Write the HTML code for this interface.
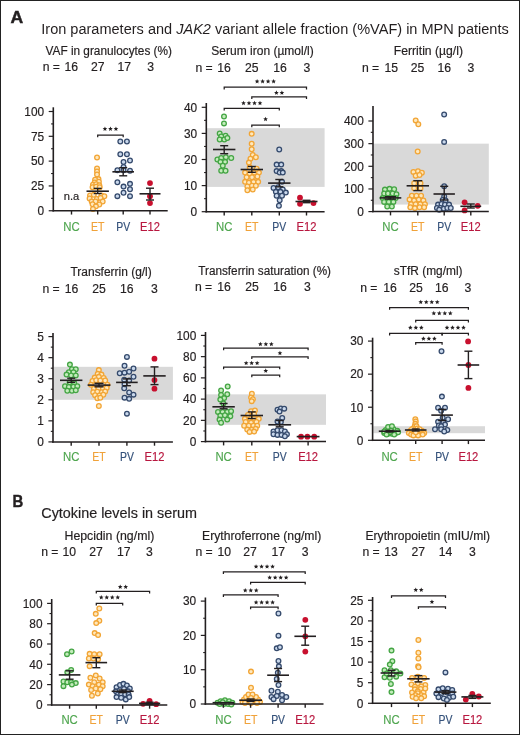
<!DOCTYPE html>
<html><head><meta charset="utf-8"><style>
html,body{margin:0;padding:0;background:#fff;}
body{width:520px;height:735px;overflow:hidden;}
svg{display:block;font-family:"Liberation Sans", sans-serif;will-change:transform;}
</style></head><body>
<svg width="520" height="735" viewBox="0 0 520 735">
<rect x="0" y="0" width="520" height="735" fill="#fff"/>
<text x="10.40" y="23.00" font-size="16.4" fill="#231f20" font-weight="bold" stroke="#231f20" stroke-width="0.45" textLength="12.70" lengthAdjust="spacingAndGlyphs">A</text>
<text x="41.25" y="33.75" font-size="14" fill="#231f20" textLength="467.5" lengthAdjust="spacingAndGlyphs">Iron parameters and <tspan font-style="italic">JAK2</tspan> variant allele fraction (%VAF) in MPN patients</text>
<text x="12.40" y="507.10" font-size="17.2" fill="#231f20" font-weight="bold" stroke="#231f20" stroke-width="0.45" textLength="10.80" lengthAdjust="spacingAndGlyphs">B</text>
<text x="41.25" y="518.00" font-size="14" fill="#231f20" stroke="#231f20" stroke-width="0.18" textLength="155.75" lengthAdjust="spacingAndGlyphs">Cytokine levels in serum</text>
<text x="45.50" y="55.00" font-size="12.0" fill="#231f20" stroke="#231f20" stroke-width="0.18" textLength="126.50" lengthAdjust="spacingAndGlyphs">VAF in granulocytes (%)</text>
<text x="211.25" y="55.00" font-size="12.0" fill="#231f20" stroke="#231f20" stroke-width="0.18" textLength="102.50" lengthAdjust="spacingAndGlyphs">Serum iron (µmol/l)</text>
<text x="393.75" y="55.00" font-size="12.0" fill="#231f20" stroke="#231f20" stroke-width="0.18" textLength="69.25" lengthAdjust="spacingAndGlyphs">Ferritin (µg/l)</text>
<text x="70.50" y="275.50" font-size="12.0" fill="#231f20" stroke="#231f20" stroke-width="0.18" textLength="81.25" lengthAdjust="spacingAndGlyphs">Transferrin (g/l)</text>
<text x="198.25" y="275.00" font-size="12.0" fill="#231f20" stroke="#231f20" stroke-width="0.18" textLength="132.75" lengthAdjust="spacingAndGlyphs">Transferrin saturation (%)</text>
<text x="393.75" y="274.50" font-size="12.0" fill="#231f20" stroke="#231f20" stroke-width="0.18" textLength="68.75" lengthAdjust="spacingAndGlyphs">sTfR (mg/ml)</text>
<text x="64.50" y="540.00" font-size="12.0" fill="#231f20" stroke="#231f20" stroke-width="0.18" textLength="89.75" lengthAdjust="spacingAndGlyphs">Hepcidin (ng/ml)</text>
<text x="202.00" y="540.00" font-size="12.0" fill="#231f20" stroke="#231f20" stroke-width="0.18" textLength="119.25" lengthAdjust="spacingAndGlyphs">Erythroferrone (ng/ml)</text>
<text x="365.50" y="540.00" font-size="12.0" fill="#231f20" stroke="#231f20" stroke-width="0.18" textLength="124.50" lengthAdjust="spacingAndGlyphs">Erythropoietin (mIU/ml)</text>
<text x="42.80" y="71.40" font-size="12.2" fill="#231f20" stroke="#231f20" stroke-width="0.18">n</text>
<text x="56.40" y="71.40" font-size="12.2" fill="#231f20" text-anchor="middle" stroke="#231f20" stroke-width="0.18">=</text>
<text x="71.25" y="71.40" font-size="12.2" fill="#231f20" text-anchor="middle" stroke="#231f20" stroke-width="0.18">16</text>
<text x="97.75" y="71.40" font-size="12.2" fill="#231f20" text-anchor="middle" stroke="#231f20" stroke-width="0.18">27</text>
<text x="124.38" y="71.40" font-size="12.2" fill="#231f20" text-anchor="middle" stroke="#231f20" stroke-width="0.18">17</text>
<text x="150.62" y="71.40" font-size="12.2" fill="#231f20" text-anchor="middle" stroke="#231f20" stroke-width="0.18">3</text>
<text x="195.50" y="71.80" font-size="12.2" fill="#231f20" stroke="#231f20" stroke-width="0.18">n</text>
<text x="209.10" y="71.80" font-size="12.2" fill="#231f20" text-anchor="middle" stroke="#231f20" stroke-width="0.18">=</text>
<text x="224.00" y="71.80" font-size="12.2" fill="#231f20" text-anchor="middle" stroke="#231f20" stroke-width="0.18">16</text>
<text x="251.75" y="71.80" font-size="12.2" fill="#231f20" text-anchor="middle" stroke="#231f20" stroke-width="0.18">25</text>
<text x="280.00" y="71.80" font-size="12.2" fill="#231f20" text-anchor="middle" stroke="#231f20" stroke-width="0.18">16</text>
<text x="306.88" y="71.80" font-size="12.2" fill="#231f20" text-anchor="middle" stroke="#231f20" stroke-width="0.18">3</text>
<text x="362.00" y="71.80" font-size="12.2" fill="#231f20" stroke="#231f20" stroke-width="0.18">n</text>
<text x="375.60" y="71.80" font-size="12.2" fill="#231f20" text-anchor="middle" stroke="#231f20" stroke-width="0.18">=</text>
<text x="391.25" y="71.80" font-size="12.2" fill="#231f20" text-anchor="middle" stroke="#231f20" stroke-width="0.18">15</text>
<text x="417.50" y="71.80" font-size="12.2" fill="#231f20" text-anchor="middle" stroke="#231f20" stroke-width="0.18">25</text>
<text x="444.38" y="71.80" font-size="12.2" fill="#231f20" text-anchor="middle" stroke="#231f20" stroke-width="0.18">16</text>
<text x="470.88" y="71.80" font-size="12.2" fill="#231f20" text-anchor="middle" stroke="#231f20" stroke-width="0.18">3</text>
<text x="42.50" y="292.60" font-size="12.2" fill="#231f20" stroke="#231f20" stroke-width="0.18">n</text>
<text x="56.10" y="292.60" font-size="12.2" fill="#231f20" text-anchor="middle" stroke="#231f20" stroke-width="0.18">=</text>
<text x="71.50" y="292.60" font-size="12.2" fill="#231f20" text-anchor="middle" stroke="#231f20" stroke-width="0.18">16</text>
<text x="99.00" y="292.60" font-size="12.2" fill="#231f20" text-anchor="middle" stroke="#231f20" stroke-width="0.18">25</text>
<text x="126.75" y="292.60" font-size="12.2" fill="#231f20" text-anchor="middle" stroke="#231f20" stroke-width="0.18">16</text>
<text x="154.38" y="292.60" font-size="12.2" fill="#231f20" text-anchor="middle" stroke="#231f20" stroke-width="0.18">3</text>
<text x="195.00" y="291.40" font-size="12.2" fill="#231f20" stroke="#231f20" stroke-width="0.18">n</text>
<text x="208.60" y="291.40" font-size="12.2" fill="#231f20" text-anchor="middle" stroke="#231f20" stroke-width="0.18">=</text>
<text x="224.00" y="291.40" font-size="12.2" fill="#231f20" text-anchor="middle" stroke="#231f20" stroke-width="0.18">16</text>
<text x="252.12" y="291.40" font-size="12.2" fill="#231f20" text-anchor="middle" stroke="#231f20" stroke-width="0.18">25</text>
<text x="280.00" y="291.40" font-size="12.2" fill="#231f20" text-anchor="middle" stroke="#231f20" stroke-width="0.18">16</text>
<text x="307.50" y="291.40" font-size="12.2" fill="#231f20" text-anchor="middle" stroke="#231f20" stroke-width="0.18">3</text>
<text x="360.30" y="292.00" font-size="12.2" fill="#231f20" stroke="#231f20" stroke-width="0.18">n</text>
<text x="373.90" y="292.00" font-size="12.2" fill="#231f20" text-anchor="middle" stroke="#231f20" stroke-width="0.18">=</text>
<text x="390.00" y="292.00" font-size="12.2" fill="#231f20" text-anchor="middle" stroke="#231f20" stroke-width="0.18">16</text>
<text x="416.00" y="292.00" font-size="12.2" fill="#231f20" text-anchor="middle" stroke="#231f20" stroke-width="0.18">25</text>
<text x="441.88" y="292.00" font-size="12.2" fill="#231f20" text-anchor="middle" stroke="#231f20" stroke-width="0.18">16</text>
<text x="467.88" y="292.00" font-size="12.2" fill="#231f20" text-anchor="middle" stroke="#231f20" stroke-width="0.18">3</text>
<text x="41.25" y="555.80" font-size="12.2" fill="#231f20" stroke="#231f20" stroke-width="0.18">n</text>
<text x="54.85" y="555.80" font-size="12.2" fill="#231f20" text-anchor="middle" stroke="#231f20" stroke-width="0.18">=</text>
<text x="69.25" y="555.80" font-size="12.2" fill="#231f20" text-anchor="middle" stroke="#231f20" stroke-width="0.18">10</text>
<text x="96.00" y="555.80" font-size="12.2" fill="#231f20" text-anchor="middle" stroke="#231f20" stroke-width="0.18">27</text>
<text x="123.75" y="555.80" font-size="12.2" fill="#231f20" text-anchor="middle" stroke="#231f20" stroke-width="0.18">17</text>
<text x="149.38" y="555.80" font-size="12.2" fill="#231f20" text-anchor="middle" stroke="#231f20" stroke-width="0.18">3</text>
<text x="195.50" y="556.00" font-size="12.2" fill="#231f20" stroke="#231f20" stroke-width="0.18">n</text>
<text x="209.10" y="556.00" font-size="12.2" fill="#231f20" text-anchor="middle" stroke="#231f20" stroke-width="0.18">=</text>
<text x="224.38" y="556.00" font-size="12.2" fill="#231f20" text-anchor="middle" stroke="#231f20" stroke-width="0.18">10</text>
<text x="250.00" y="556.00" font-size="12.2" fill="#231f20" text-anchor="middle" stroke="#231f20" stroke-width="0.18">27</text>
<text x="278.38" y="556.00" font-size="12.2" fill="#231f20" text-anchor="middle" stroke="#231f20" stroke-width="0.18">17</text>
<text x="305.25" y="556.00" font-size="12.2" fill="#231f20" text-anchor="middle" stroke="#231f20" stroke-width="0.18">3</text>
<text x="362.50" y="555.80" font-size="12.2" fill="#231f20" stroke="#231f20" stroke-width="0.18">n</text>
<text x="376.10" y="555.80" font-size="12.2" fill="#231f20" text-anchor="middle" stroke="#231f20" stroke-width="0.18">=</text>
<text x="391.00" y="555.80" font-size="12.2" fill="#231f20" text-anchor="middle" stroke="#231f20" stroke-width="0.18">13</text>
<text x="418.25" y="555.80" font-size="12.2" fill="#231f20" text-anchor="middle" stroke="#231f20" stroke-width="0.18">27</text>
<text x="445.62" y="555.80" font-size="12.2" fill="#231f20" text-anchor="middle" stroke="#231f20" stroke-width="0.18">14</text>
<text x="472.50" y="555.80" font-size="12.2" fill="#231f20" text-anchor="middle" stroke="#231f20" stroke-width="0.18">3</text>
<circle cx="97.02" cy="157.43" r="2.35" fill="#fee8bd" stroke="#f2a535" stroke-width="1.3"/>
<circle cx="97.02" cy="168.40" r="2.35" fill="#fee8bd" stroke="#f2a535" stroke-width="1.3"/>
<circle cx="97.02" cy="171.52" r="2.35" fill="#fee8bd" stroke="#f2a535" stroke-width="1.3"/>
<circle cx="97.02" cy="174.47" r="2.35" fill="#fee8bd" stroke="#f2a535" stroke-width="1.3"/>
<circle cx="98.46" cy="179.11" r="2.35" fill="#fee8bd" stroke="#f2a535" stroke-width="1.3"/>
<circle cx="95.08" cy="179.70" r="2.35" fill="#fee8bd" stroke="#f2a535" stroke-width="1.3"/>
<circle cx="94.66" cy="182.49" r="2.35" fill="#fee8bd" stroke="#f2a535" stroke-width="1.3"/>
<circle cx="98.88" cy="181.65" r="2.35" fill="#fee8bd" stroke="#f2a535" stroke-width="1.3"/>
<circle cx="92.97" cy="184.77" r="2.35" fill="#fee8bd" stroke="#f2a535" stroke-width="1.3"/>
<circle cx="96.18" cy="184.18" r="2.35" fill="#fee8bd" stroke="#f2a535" stroke-width="1.3"/>
<circle cx="99.30" cy="185.27" r="2.35" fill="#fee8bd" stroke="#f2a535" stroke-width="1.3"/>
<circle cx="92.55" cy="187.30" r="2.35" fill="#fee8bd" stroke="#f2a535" stroke-width="1.3"/>
<circle cx="96.18" cy="186.79" r="2.35" fill="#fee8bd" stroke="#f2a535" stroke-width="1.3"/>
<circle cx="99.72" cy="187.30" r="2.35" fill="#fee8bd" stroke="#f2a535" stroke-width="1.3"/>
<circle cx="90.02" cy="195.57" r="2.35" fill="#fee8bd" stroke="#f2a535" stroke-width="1.3"/>
<circle cx="93.81" cy="194.73" r="2.35" fill="#fee8bd" stroke="#f2a535" stroke-width="1.3"/>
<circle cx="101.41" cy="195.57" r="2.35" fill="#fee8bd" stroke="#f2a535" stroke-width="1.3"/>
<circle cx="104.36" cy="196.24" r="2.35" fill="#fee8bd" stroke="#f2a535" stroke-width="1.3"/>
<circle cx="89.59" cy="198.52" r="2.35" fill="#fee8bd" stroke="#f2a535" stroke-width="1.3"/>
<circle cx="96.77" cy="198.95" r="2.35" fill="#fee8bd" stroke="#f2a535" stroke-width="1.3"/>
<circle cx="100.57" cy="197.93" r="2.35" fill="#fee8bd" stroke="#f2a535" stroke-width="1.3"/>
<circle cx="91.70" cy="201.48" r="2.35" fill="#fee8bd" stroke="#f2a535" stroke-width="1.3"/>
<circle cx="95.50" cy="201.48" r="2.35" fill="#fee8bd" stroke="#f2a535" stroke-width="1.3"/>
<circle cx="102.68" cy="201.48" r="2.35" fill="#fee8bd" stroke="#f2a535" stroke-width="1.3"/>
<circle cx="92.55" cy="204.18" r="2.35" fill="#fee8bd" stroke="#f2a535" stroke-width="1.3"/>
<circle cx="99.30" cy="204.43" r="2.35" fill="#fee8bd" stroke="#f2a535" stroke-width="1.3"/>
<circle cx="95.92" cy="206.37" r="2.35" fill="#fee8bd" stroke="#f2a535" stroke-width="1.3"/>
<circle cx="92.97" cy="209.07" r="2.35" fill="#fee8bd" stroke="#f2a535" stroke-width="1.3"/>
<circle cx="120.31" cy="141.54" r="2.35" fill="#c9d8ec" stroke="#354a6c" stroke-width="1.3"/>
<circle cx="126.92" cy="141.54" r="2.35" fill="#c9d8ec" stroke="#354a6c" stroke-width="1.3"/>
<circle cx="120.31" cy="154.31" r="2.35" fill="#c9d8ec" stroke="#354a6c" stroke-width="1.3"/>
<circle cx="126.92" cy="154.31" r="2.35" fill="#c9d8ec" stroke="#354a6c" stroke-width="1.3"/>
<circle cx="130.00" cy="160.46" r="2.35" fill="#c9d8ec" stroke="#354a6c" stroke-width="1.3"/>
<circle cx="123.54" cy="162.00" r="2.35" fill="#c9d8ec" stroke="#354a6c" stroke-width="1.3"/>
<circle cx="123.54" cy="166.92" r="2.35" fill="#c9d8ec" stroke="#354a6c" stroke-width="1.3"/>
<circle cx="117.38" cy="170.31" r="2.35" fill="#c9d8ec" stroke="#354a6c" stroke-width="1.3"/>
<circle cx="130.00" cy="170.77" r="2.35" fill="#c9d8ec" stroke="#354a6c" stroke-width="1.3"/>
<circle cx="123.54" cy="170.31" r="2.35" fill="#c9d8ec" stroke="#354a6c" stroke-width="1.3"/>
<circle cx="117.38" cy="182.31" r="2.35" fill="#c9d8ec" stroke="#354a6c" stroke-width="1.3"/>
<circle cx="130.00" cy="183.85" r="2.35" fill="#c9d8ec" stroke="#354a6c" stroke-width="1.3"/>
<circle cx="123.54" cy="186.62" r="2.35" fill="#c9d8ec" stroke="#354a6c" stroke-width="1.3"/>
<circle cx="130.00" cy="189.23" r="2.35" fill="#c9d8ec" stroke="#354a6c" stroke-width="1.3"/>
<circle cx="123.54" cy="192.77" r="2.35" fill="#c9d8ec" stroke="#354a6c" stroke-width="1.3"/>
<circle cx="117.38" cy="196.15" r="2.35" fill="#c9d8ec" stroke="#354a6c" stroke-width="1.3"/>
<circle cx="130.00" cy="196.15" r="2.35" fill="#c9d8ec" stroke="#354a6c" stroke-width="1.3"/>
<circle cx="150.00" cy="183.08" r="2.9" fill="#c8102e"/>
<circle cx="150.00" cy="196.15" r="2.9" fill="#c8102e"/>
<circle cx="150.00" cy="203.08" r="2.9" fill="#c8102e"/>
<line x1="86.50" y1="191.20" x2="108.90" y2="191.20" stroke="#231f20" stroke-width="1.6"/>
<line x1="97.70" y1="188.40" x2="97.70" y2="193.50" stroke="#231f20" stroke-width="1.4"/>
<line x1="93.70" y1="188.40" x2="101.70" y2="188.40" stroke="#231f20" stroke-width="1.4"/>
<line x1="93.70" y1="193.50" x2="101.70" y2="193.50" stroke="#231f20" stroke-width="1.4"/>
<line x1="112.40" y1="171.80" x2="134.00" y2="171.80" stroke="#231f20" stroke-width="1.6"/>
<line x1="123.20" y1="167.70" x2="123.20" y2="175.80" stroke="#231f20" stroke-width="1.4"/>
<line x1="119.20" y1="167.70" x2="127.20" y2="167.70" stroke="#231f20" stroke-width="1.4"/>
<line x1="119.20" y1="175.80" x2="127.20" y2="175.80" stroke="#231f20" stroke-width="1.4"/>
<line x1="139.50" y1="193.80" x2="160.50" y2="193.80" stroke="#231f20" stroke-width="1.6"/>
<line x1="150.00" y1="188.20" x2="150.00" y2="200.00" stroke="#231f20" stroke-width="1.4"/>
<line x1="146.00" y1="188.20" x2="154.00" y2="188.20" stroke="#231f20" stroke-width="1.4"/>
<line x1="146.00" y1="200.00" x2="154.00" y2="200.00" stroke="#231f20" stroke-width="1.4"/>
<line x1="53.30" y1="107.30" x2="53.30" y2="211.50" stroke="#231f20" stroke-width="1.6"/>
<line x1="52.50" y1="210.75" x2="167.70" y2="210.75" stroke="#231f20" stroke-width="1.5"/>
<line x1="48.70" y1="210.75" x2="53.30" y2="210.75" stroke="#231f20" stroke-width="1.2"/>
<text x="44.10" y="215.05" font-size="12.3" fill="#231f20" text-anchor="end" stroke="#231f20" stroke-width="0.18" textLength="6.60" lengthAdjust="spacingAndGlyphs">0</text>
<line x1="48.70" y1="185.94" x2="53.30" y2="185.94" stroke="#231f20" stroke-width="1.2"/>
<text x="44.10" y="190.24" font-size="12.3" fill="#231f20" text-anchor="end" stroke="#231f20" stroke-width="0.18" textLength="13.20" lengthAdjust="spacingAndGlyphs">25</text>
<line x1="48.70" y1="161.12" x2="53.30" y2="161.12" stroke="#231f20" stroke-width="1.2"/>
<text x="44.10" y="165.43" font-size="12.3" fill="#231f20" text-anchor="end" stroke="#231f20" stroke-width="0.18" textLength="13.20" lengthAdjust="spacingAndGlyphs">50</text>
<line x1="48.70" y1="136.31" x2="53.30" y2="136.31" stroke="#231f20" stroke-width="1.2"/>
<text x="44.10" y="140.61" font-size="12.3" fill="#231f20" text-anchor="end" stroke="#231f20" stroke-width="0.18" textLength="13.20" lengthAdjust="spacingAndGlyphs">75</text>
<line x1="48.70" y1="111.50" x2="53.30" y2="111.50" stroke="#231f20" stroke-width="1.2"/>
<text x="44.10" y="115.80" font-size="12.3" fill="#231f20" text-anchor="end" stroke="#231f20" stroke-width="0.18" textLength="19.80" lengthAdjust="spacingAndGlyphs">100</text>
<line x1="51.10" y1="198.34" x2="53.30" y2="198.34" stroke="#231f20" stroke-width="1.1"/>
<line x1="51.10" y1="173.53" x2="53.30" y2="173.53" stroke="#231f20" stroke-width="1.1"/>
<line x1="51.10" y1="148.72" x2="53.30" y2="148.72" stroke="#231f20" stroke-width="1.1"/>
<line x1="51.10" y1="123.91" x2="53.30" y2="123.91" stroke="#231f20" stroke-width="1.1"/>
<line x1="71.50" y1="210.75" x2="71.50" y2="214.55" stroke="#231f20" stroke-width="1.4"/>
<text x="71.50" y="230.50" font-size="12.4" fill="#4fa64f" text-anchor="middle" stroke="#4fa64f" stroke-width="0.18" textLength="16.40" lengthAdjust="spacingAndGlyphs">NC</text>
<line x1="97.70" y1="210.75" x2="97.70" y2="214.55" stroke="#231f20" stroke-width="1.4"/>
<text x="97.70" y="230.50" font-size="12.4" fill="#f0a23a" text-anchor="middle" stroke="#f0a23a" stroke-width="0.18" textLength="13.40" lengthAdjust="spacingAndGlyphs">ET</text>
<line x1="123.20" y1="210.75" x2="123.20" y2="214.55" stroke="#231f20" stroke-width="1.4"/>
<text x="123.20" y="230.50" font-size="12.4" fill="#34517a" text-anchor="middle" stroke="#34517a" stroke-width="0.18" textLength="13.90" lengthAdjust="spacingAndGlyphs">PV</text>
<line x1="150.00" y1="210.75" x2="150.00" y2="214.55" stroke="#231f20" stroke-width="1.4"/>
<text x="150.00" y="230.50" font-size="12.4" fill="#b8173f" text-anchor="middle" stroke="#b8173f" stroke-width="0.18" textLength="19.90" lengthAdjust="spacingAndGlyphs">E12</text>
<path d="M97.70,137.20 V135.00 H123.20 V137.20" fill="none" stroke="#231f20" stroke-width="1.25"/>
<polygon points="104.95,126.45 105.60,128.01 107.28,128.14 106.00,129.24 106.39,130.88 104.95,130.00 103.51,130.88 103.90,129.24 102.62,128.14 104.30,128.01" fill="#231f20"/>
<polygon points="110.45,126.45 111.10,128.01 112.78,128.14 111.50,129.24 111.89,130.88 110.45,130.00 109.01,130.88 109.40,129.24 108.12,128.14 109.80,128.01" fill="#231f20"/>
<polygon points="115.95,126.45 116.60,128.01 118.28,128.14 117.00,129.24 117.39,130.88 115.95,130.00 114.51,130.88 114.90,129.24 113.62,128.14 115.30,128.01" fill="#231f20"/>
<text x="63.75" y="200.00" font-size="11.6" fill="#231f20" stroke="#231f20" stroke-width="0.18" textLength="15.50" lengthAdjust="spacingAndGlyphs">n.a</text>
<rect x="206.90" y="128.18" width="117.70" height="58.72" fill="#d9d9d9"/>
<circle cx="224.00" cy="116.46" r="2.35" fill="#c4ecbc" stroke="#44a544" stroke-width="1.3"/>
<circle cx="224.00" cy="123.38" r="2.35" fill="#c4ecbc" stroke="#44a544" stroke-width="1.3"/>
<circle cx="219.69" cy="133.38" r="2.35" fill="#c4ecbc" stroke="#44a544" stroke-width="1.3"/>
<circle cx="225.54" cy="135.69" r="2.35" fill="#c4ecbc" stroke="#44a544" stroke-width="1.3"/>
<circle cx="221.23" cy="136.46" r="2.35" fill="#c4ecbc" stroke="#44a544" stroke-width="1.3"/>
<circle cx="219.69" cy="139.54" r="2.35" fill="#c4ecbc" stroke="#44a544" stroke-width="1.3"/>
<circle cx="224.31" cy="139.54" r="2.35" fill="#c4ecbc" stroke="#44a544" stroke-width="1.3"/>
<circle cx="227.38" cy="138.00" r="2.35" fill="#c4ecbc" stroke="#44a544" stroke-width="1.3"/>
<circle cx="217.38" cy="159.54" r="2.35" fill="#c4ecbc" stroke="#44a544" stroke-width="1.3"/>
<circle cx="221.23" cy="158.00" r="2.35" fill="#c4ecbc" stroke="#44a544" stroke-width="1.3"/>
<circle cx="225.85" cy="157.23" r="2.35" fill="#c4ecbc" stroke="#44a544" stroke-width="1.3"/>
<circle cx="231.23" cy="158.00" r="2.35" fill="#c4ecbc" stroke="#44a544" stroke-width="1.3"/>
<circle cx="220.46" cy="161.85" r="2.35" fill="#c4ecbc" stroke="#44a544" stroke-width="1.3"/>
<circle cx="225.08" cy="161.85" r="2.35" fill="#c4ecbc" stroke="#44a544" stroke-width="1.3"/>
<circle cx="222.77" cy="165.69" r="2.35" fill="#c4ecbc" stroke="#44a544" stroke-width="1.3"/>
<circle cx="221.23" cy="170.77" r="2.35" fill="#c4ecbc" stroke="#44a544" stroke-width="1.3"/>
<circle cx="225.54" cy="170.77" r="2.35" fill="#c4ecbc" stroke="#44a544" stroke-width="1.3"/>
<circle cx="251.69" cy="133.85" r="2.35" fill="#fee8bd" stroke="#f2a535" stroke-width="1.3"/>
<circle cx="251.69" cy="143.69" r="2.35" fill="#fee8bd" stroke="#f2a535" stroke-width="1.3"/>
<circle cx="251.69" cy="149.23" r="2.35" fill="#fee8bd" stroke="#f2a535" stroke-width="1.3"/>
<circle cx="252.77" cy="154.92" r="2.35" fill="#fee8bd" stroke="#f2a535" stroke-width="1.3"/>
<circle cx="255.85" cy="157.23" r="2.35" fill="#fee8bd" stroke="#f2a535" stroke-width="1.3"/>
<circle cx="250.46" cy="158.77" r="2.35" fill="#fee8bd" stroke="#f2a535" stroke-width="1.3"/>
<circle cx="248.92" cy="162.62" r="2.35" fill="#fee8bd" stroke="#f2a535" stroke-width="1.3"/>
<circle cx="249.69" cy="167.23" r="2.35" fill="#fee8bd" stroke="#f2a535" stroke-width="1.3"/>
<circle cx="245.08" cy="172.62" r="2.35" fill="#fee8bd" stroke="#f2a535" stroke-width="1.3"/>
<circle cx="249.69" cy="173.38" r="2.35" fill="#fee8bd" stroke="#f2a535" stroke-width="1.3"/>
<circle cx="254.31" cy="172.62" r="2.35" fill="#fee8bd" stroke="#f2a535" stroke-width="1.3"/>
<circle cx="258.92" cy="172.62" r="2.35" fill="#fee8bd" stroke="#f2a535" stroke-width="1.3"/>
<circle cx="246.62" cy="177.23" r="2.35" fill="#fee8bd" stroke="#f2a535" stroke-width="1.3"/>
<circle cx="252.00" cy="177.23" r="2.35" fill="#fee8bd" stroke="#f2a535" stroke-width="1.3"/>
<circle cx="257.38" cy="176.46" r="2.35" fill="#fee8bd" stroke="#f2a535" stroke-width="1.3"/>
<circle cx="245.08" cy="181.85" r="2.35" fill="#fee8bd" stroke="#f2a535" stroke-width="1.3"/>
<circle cx="248.92" cy="182.62" r="2.35" fill="#fee8bd" stroke="#f2a535" stroke-width="1.3"/>
<circle cx="253.54" cy="181.85" r="2.35" fill="#fee8bd" stroke="#f2a535" stroke-width="1.3"/>
<circle cx="258.15" cy="181.85" r="2.35" fill="#fee8bd" stroke="#f2a535" stroke-width="1.3"/>
<circle cx="247.38" cy="186.46" r="2.35" fill="#fee8bd" stroke="#f2a535" stroke-width="1.3"/>
<circle cx="252.00" cy="185.69" r="2.35" fill="#fee8bd" stroke="#f2a535" stroke-width="1.3"/>
<circle cx="255.85" cy="185.69" r="2.35" fill="#fee8bd" stroke="#f2a535" stroke-width="1.3"/>
<circle cx="247.38" cy="190.31" r="2.35" fill="#fee8bd" stroke="#f2a535" stroke-width="1.3"/>
<circle cx="252.77" cy="189.54" r="2.35" fill="#fee8bd" stroke="#f2a535" stroke-width="1.3"/>
<circle cx="256.62" cy="168.77" r="2.35" fill="#fee8bd" stroke="#f2a535" stroke-width="1.3"/>
<circle cx="279.23" cy="149.54" r="2.35" fill="#c9d8ec" stroke="#354a6c" stroke-width="1.3"/>
<circle cx="276.62" cy="164.62" r="2.35" fill="#c9d8ec" stroke="#354a6c" stroke-width="1.3"/>
<circle cx="281.23" cy="164.62" r="2.35" fill="#c9d8ec" stroke="#354a6c" stroke-width="1.3"/>
<circle cx="276.62" cy="171.08" r="2.35" fill="#c9d8ec" stroke="#354a6c" stroke-width="1.3"/>
<circle cx="281.23" cy="171.08" r="2.35" fill="#c9d8ec" stroke="#354a6c" stroke-width="1.3"/>
<circle cx="279.69" cy="172.62" r="2.35" fill="#c9d8ec" stroke="#354a6c" stroke-width="1.3"/>
<circle cx="282.77" cy="172.62" r="2.35" fill="#c9d8ec" stroke="#354a6c" stroke-width="1.3"/>
<circle cx="282.00" cy="181.85" r="2.35" fill="#c9d8ec" stroke="#354a6c" stroke-width="1.3"/>
<circle cx="273.54" cy="188.00" r="2.35" fill="#c9d8ec" stroke="#354a6c" stroke-width="1.3"/>
<circle cx="278.15" cy="187.23" r="2.35" fill="#c9d8ec" stroke="#354a6c" stroke-width="1.3"/>
<circle cx="282.77" cy="189.54" r="2.35" fill="#c9d8ec" stroke="#354a6c" stroke-width="1.3"/>
<circle cx="275.85" cy="191.85" r="2.35" fill="#c9d8ec" stroke="#354a6c" stroke-width="1.3"/>
<circle cx="280.46" cy="191.85" r="2.35" fill="#c9d8ec" stroke="#354a6c" stroke-width="1.3"/>
<circle cx="285.85" cy="192.62" r="2.35" fill="#c9d8ec" stroke="#354a6c" stroke-width="1.3"/>
<circle cx="276.62" cy="195.69" r="2.35" fill="#c9d8ec" stroke="#354a6c" stroke-width="1.3"/>
<circle cx="282.00" cy="195.69" r="2.35" fill="#c9d8ec" stroke="#354a6c" stroke-width="1.3"/>
<circle cx="279.69" cy="200.31" r="2.35" fill="#c9d8ec" stroke="#354a6c" stroke-width="1.3"/>
<circle cx="278.92" cy="205.69" r="2.35" fill="#c9d8ec" stroke="#354a6c" stroke-width="1.3"/>
<circle cx="300.00" cy="197.70" r="2.9" fill="#c8102e"/>
<circle cx="300.00" cy="203.80" r="2.9" fill="#c8102e"/>
<circle cx="313.50" cy="203.10" r="2.9" fill="#c8102e"/>
<line x1="213.00" y1="149.50" x2="235.40" y2="149.50" stroke="#231f20" stroke-width="1.6"/>
<line x1="224.20" y1="145.70" x2="224.20" y2="153.70" stroke="#231f20" stroke-width="1.4"/>
<line x1="220.20" y1="145.70" x2="228.20" y2="145.70" stroke="#231f20" stroke-width="1.4"/>
<line x1="220.20" y1="153.70" x2="228.20" y2="153.70" stroke="#231f20" stroke-width="1.4"/>
<line x1="240.60" y1="169.50" x2="263.00" y2="169.50" stroke="#231f20" stroke-width="1.6"/>
<line x1="251.80" y1="166.50" x2="251.80" y2="172.30" stroke="#231f20" stroke-width="1.4"/>
<line x1="247.80" y1="166.50" x2="255.80" y2="166.50" stroke="#231f20" stroke-width="1.4"/>
<line x1="247.80" y1="172.30" x2="255.80" y2="172.30" stroke="#231f20" stroke-width="1.4"/>
<line x1="268.10" y1="183.10" x2="290.50" y2="183.10" stroke="#231f20" stroke-width="1.6"/>
<line x1="279.30" y1="179.50" x2="279.30" y2="186.80" stroke="#231f20" stroke-width="1.4"/>
<line x1="275.30" y1="179.50" x2="283.30" y2="179.50" stroke="#231f20" stroke-width="1.4"/>
<line x1="275.30" y1="186.80" x2="283.30" y2="186.80" stroke="#231f20" stroke-width="1.4"/>
<line x1="295.50" y1="201.50" x2="317.50" y2="201.50" stroke="#231f20" stroke-width="1.6"/>
<line x1="306.50" y1="200.30" x2="306.50" y2="202.70" stroke="#231f20" stroke-width="1.4"/>
<line x1="302.50" y1="200.30" x2="310.50" y2="200.30" stroke="#231f20" stroke-width="1.4"/>
<line x1="302.50" y1="202.70" x2="310.50" y2="202.70" stroke="#231f20" stroke-width="1.4"/>
<line x1="206.30" y1="103.00" x2="206.30" y2="212.45" stroke="#231f20" stroke-width="1.6"/>
<line x1="205.50" y1="211.70" x2="324.60" y2="211.70" stroke="#231f20" stroke-width="1.5"/>
<line x1="201.70" y1="211.70" x2="206.30" y2="211.70" stroke="#231f20" stroke-width="1.2"/>
<text x="197.10" y="216.00" font-size="12.3" fill="#231f20" text-anchor="end" stroke="#231f20" stroke-width="0.18" textLength="6.60" lengthAdjust="spacingAndGlyphs">0</text>
<line x1="201.70" y1="185.60" x2="206.30" y2="185.60" stroke="#231f20" stroke-width="1.2"/>
<text x="197.10" y="189.90" font-size="12.3" fill="#231f20" text-anchor="end" stroke="#231f20" stroke-width="0.18" textLength="13.20" lengthAdjust="spacingAndGlyphs">10</text>
<line x1="201.70" y1="159.50" x2="206.30" y2="159.50" stroke="#231f20" stroke-width="1.2"/>
<text x="197.10" y="163.80" font-size="12.3" fill="#231f20" text-anchor="end" stroke="#231f20" stroke-width="0.18" textLength="13.20" lengthAdjust="spacingAndGlyphs">20</text>
<line x1="201.70" y1="133.40" x2="206.30" y2="133.40" stroke="#231f20" stroke-width="1.2"/>
<text x="197.10" y="137.70" font-size="12.3" fill="#231f20" text-anchor="end" stroke="#231f20" stroke-width="0.18" textLength="13.20" lengthAdjust="spacingAndGlyphs">30</text>
<line x1="201.70" y1="107.30" x2="206.30" y2="107.30" stroke="#231f20" stroke-width="1.2"/>
<text x="197.10" y="111.60" font-size="12.3" fill="#231f20" text-anchor="end" stroke="#231f20" stroke-width="0.18" textLength="13.20" lengthAdjust="spacingAndGlyphs">40</text>
<line x1="204.10" y1="198.65" x2="206.30" y2="198.65" stroke="#231f20" stroke-width="1.1"/>
<line x1="204.10" y1="172.55" x2="206.30" y2="172.55" stroke="#231f20" stroke-width="1.1"/>
<line x1="204.10" y1="146.45" x2="206.30" y2="146.45" stroke="#231f20" stroke-width="1.1"/>
<line x1="204.10" y1="120.35" x2="206.30" y2="120.35" stroke="#231f20" stroke-width="1.1"/>
<line x1="224.20" y1="211.70" x2="224.20" y2="215.50" stroke="#231f20" stroke-width="1.4"/>
<text x="224.20" y="230.50" font-size="12.4" fill="#4fa64f" text-anchor="middle" stroke="#4fa64f" stroke-width="0.18" textLength="16.40" lengthAdjust="spacingAndGlyphs">NC</text>
<line x1="251.80" y1="211.70" x2="251.80" y2="215.50" stroke="#231f20" stroke-width="1.4"/>
<text x="251.80" y="230.50" font-size="12.4" fill="#f0a23a" text-anchor="middle" stroke="#f0a23a" stroke-width="0.18" textLength="13.40" lengthAdjust="spacingAndGlyphs">ET</text>
<line x1="279.30" y1="211.70" x2="279.30" y2="215.50" stroke="#231f20" stroke-width="1.4"/>
<text x="279.30" y="230.50" font-size="12.4" fill="#34517a" text-anchor="middle" stroke="#34517a" stroke-width="0.18" textLength="13.90" lengthAdjust="spacingAndGlyphs">PV</text>
<line x1="306.50" y1="211.70" x2="306.50" y2="215.50" stroke="#231f20" stroke-width="1.4"/>
<text x="306.50" y="230.50" font-size="12.4" fill="#b8173f" text-anchor="middle" stroke="#b8173f" stroke-width="0.18" textLength="19.90" lengthAdjust="spacingAndGlyphs">E12</text>
<path d="M224.20,89.40 V87.20 H306.50 V89.40" fill="none" stroke="#231f20" stroke-width="1.25"/>
<polygon points="257.10,79.05 257.75,80.61 259.43,80.74 258.15,81.84 258.54,83.48 257.10,82.60 255.66,83.48 256.05,81.84 254.77,80.74 256.45,80.61" fill="#231f20"/>
<polygon points="262.60,79.05 263.25,80.61 264.93,80.74 263.65,81.84 264.04,83.48 262.60,82.60 261.16,83.48 261.55,81.84 260.27,80.74 261.95,80.61" fill="#231f20"/>
<polygon points="268.10,79.05 268.75,80.61 270.43,80.74 269.15,81.84 269.54,83.48 268.10,82.60 266.66,83.48 267.05,81.84 265.77,80.74 267.45,80.61" fill="#231f20"/>
<polygon points="273.60,79.05 274.25,80.61 275.93,80.74 274.65,81.84 275.04,83.48 273.60,82.60 272.16,83.48 272.55,81.84 271.27,80.74 272.95,80.61" fill="#231f20"/>
<path d="M251.80,99.10 V96.90 H306.50 V99.10" fill="none" stroke="#231f20" stroke-width="1.25"/>
<polygon points="276.40,90.35 277.05,91.91 278.73,92.04 277.45,93.14 277.84,94.78 276.40,93.90 274.96,94.78 275.35,93.14 274.07,92.04 275.75,91.91" fill="#231f20"/>
<polygon points="281.90,90.35 282.55,91.91 284.23,92.04 282.95,93.14 283.34,94.78 281.90,93.90 280.46,94.78 280.85,93.14 279.57,92.04 281.25,91.91" fill="#231f20"/>
<path d="M224.20,110.60 V108.40 H279.30 V110.60" fill="none" stroke="#231f20" stroke-width="1.25"/>
<polygon points="243.50,100.75 244.15,102.31 245.83,102.44 244.55,103.54 244.94,105.18 243.50,104.30 242.06,105.18 242.45,103.54 241.17,102.44 242.85,102.31" fill="#231f20"/>
<polygon points="249.00,100.75 249.65,102.31 251.33,102.44 250.05,103.54 250.44,105.18 249.00,104.30 247.56,105.18 247.95,103.54 246.67,102.44 248.35,102.31" fill="#231f20"/>
<polygon points="254.50,100.75 255.15,102.31 256.83,102.44 255.55,103.54 255.94,105.18 254.50,104.30 253.06,105.18 253.45,103.54 252.17,102.44 253.85,102.31" fill="#231f20"/>
<polygon points="260.00,100.75 260.65,102.31 262.33,102.44 261.05,103.54 261.44,105.18 260.00,104.30 258.56,105.18 258.95,103.54 257.67,102.44 259.35,102.31" fill="#231f20"/>
<path d="M251.80,127.20 V125.00 H279.30 V127.20" fill="none" stroke="#231f20" stroke-width="1.25"/>
<polygon points="265.55,116.75 266.20,118.31 267.88,118.44 266.60,119.54 266.99,121.18 265.55,120.30 264.11,121.18 264.50,119.54 263.22,118.44 264.90,118.31" fill="#231f20"/>
<rect x="373.60" y="143.65" width="115.20" height="60.93" fill="#d9d9d9"/>
<circle cx="389.54" cy="188.85" r="2.35" fill="#c4ecbc" stroke="#44a544" stroke-width="1.3"/>
<circle cx="394.15" cy="189.31" r="2.35" fill="#c4ecbc" stroke="#44a544" stroke-width="1.3"/>
<circle cx="384.92" cy="189.62" r="2.35" fill="#c4ecbc" stroke="#44a544" stroke-width="1.3"/>
<circle cx="384.15" cy="193.46" r="2.35" fill="#c4ecbc" stroke="#44a544" stroke-width="1.3"/>
<circle cx="388.00" cy="193.46" r="2.35" fill="#c4ecbc" stroke="#44a544" stroke-width="1.3"/>
<circle cx="392.62" cy="193.46" r="2.35" fill="#c4ecbc" stroke="#44a544" stroke-width="1.3"/>
<circle cx="396.46" cy="194.23" r="2.35" fill="#c4ecbc" stroke="#44a544" stroke-width="1.3"/>
<circle cx="382.62" cy="198.08" r="2.35" fill="#c4ecbc" stroke="#44a544" stroke-width="1.3"/>
<circle cx="386.46" cy="198.08" r="2.35" fill="#c4ecbc" stroke="#44a544" stroke-width="1.3"/>
<circle cx="391.85" cy="198.08" r="2.35" fill="#c4ecbc" stroke="#44a544" stroke-width="1.3"/>
<circle cx="395.69" cy="198.08" r="2.35" fill="#c4ecbc" stroke="#44a544" stroke-width="1.3"/>
<circle cx="384.15" cy="201.92" r="2.35" fill="#c4ecbc" stroke="#44a544" stroke-width="1.3"/>
<circle cx="388.77" cy="201.92" r="2.35" fill="#c4ecbc" stroke="#44a544" stroke-width="1.3"/>
<circle cx="393.38" cy="201.92" r="2.35" fill="#c4ecbc" stroke="#44a544" stroke-width="1.3"/>
<circle cx="387.23" cy="206.54" r="2.35" fill="#c4ecbc" stroke="#44a544" stroke-width="1.3"/>
<circle cx="391.85" cy="206.54" r="2.35" fill="#c4ecbc" stroke="#44a544" stroke-width="1.3"/>
<circle cx="414.20" cy="183.30" r="2.35" fill="#fee8bd" stroke="#f2a535" stroke-width="1.3"/>
<circle cx="420.50" cy="183.30" r="2.35" fill="#fee8bd" stroke="#f2a535" stroke-width="1.3"/>
<circle cx="414.20" cy="188.30" r="2.35" fill="#fee8bd" stroke="#f2a535" stroke-width="1.3"/>
<circle cx="420.50" cy="188.30" r="2.35" fill="#fee8bd" stroke="#f2a535" stroke-width="1.3"/>
<circle cx="415.69" cy="120.38" r="2.35" fill="#fee8bd" stroke="#f2a535" stroke-width="1.3"/>
<circle cx="418.31" cy="124.23" r="2.35" fill="#fee8bd" stroke="#f2a535" stroke-width="1.3"/>
<circle cx="417.69" cy="151.46" r="2.35" fill="#fee8bd" stroke="#f2a535" stroke-width="1.3"/>
<circle cx="413.38" cy="171.92" r="2.35" fill="#fee8bd" stroke="#f2a535" stroke-width="1.3"/>
<circle cx="418.00" cy="171.15" r="2.35" fill="#fee8bd" stroke="#f2a535" stroke-width="1.3"/>
<circle cx="421.85" cy="172.69" r="2.35" fill="#fee8bd" stroke="#f2a535" stroke-width="1.3"/>
<circle cx="415.69" cy="175.77" r="2.35" fill="#fee8bd" stroke="#f2a535" stroke-width="1.3"/>
<circle cx="419.54" cy="175.00" r="2.35" fill="#fee8bd" stroke="#f2a535" stroke-width="1.3"/>
<circle cx="411.85" cy="195.77" r="2.35" fill="#fee8bd" stroke="#f2a535" stroke-width="1.3"/>
<circle cx="416.46" cy="195.77" r="2.35" fill="#fee8bd" stroke="#f2a535" stroke-width="1.3"/>
<circle cx="421.08" cy="195.77" r="2.35" fill="#fee8bd" stroke="#f2a535" stroke-width="1.3"/>
<circle cx="409.54" cy="199.62" r="2.35" fill="#fee8bd" stroke="#f2a535" stroke-width="1.3"/>
<circle cx="414.15" cy="200.38" r="2.35" fill="#fee8bd" stroke="#f2a535" stroke-width="1.3"/>
<circle cx="418.77" cy="199.62" r="2.35" fill="#fee8bd" stroke="#f2a535" stroke-width="1.3"/>
<circle cx="423.38" cy="200.38" r="2.35" fill="#fee8bd" stroke="#f2a535" stroke-width="1.3"/>
<circle cx="411.08" cy="204.23" r="2.35" fill="#fee8bd" stroke="#f2a535" stroke-width="1.3"/>
<circle cx="415.69" cy="204.23" r="2.35" fill="#fee8bd" stroke="#f2a535" stroke-width="1.3"/>
<circle cx="420.31" cy="204.23" r="2.35" fill="#fee8bd" stroke="#f2a535" stroke-width="1.3"/>
<circle cx="424.92" cy="204.23" r="2.35" fill="#fee8bd" stroke="#f2a535" stroke-width="1.3"/>
<circle cx="410.31" cy="207.31" r="2.35" fill="#fee8bd" stroke="#f2a535" stroke-width="1.3"/>
<circle cx="414.92" cy="208.08" r="2.35" fill="#fee8bd" stroke="#f2a535" stroke-width="1.3"/>
<circle cx="419.54" cy="207.31" r="2.35" fill="#fee8bd" stroke="#f2a535" stroke-width="1.3"/>
<circle cx="424.15" cy="207.31" r="2.35" fill="#fee8bd" stroke="#f2a535" stroke-width="1.3"/>
<circle cx="444.15" cy="114.54" r="2.35" fill="#c9d8ec" stroke="#354a6c" stroke-width="1.3"/>
<circle cx="444.15" cy="141.92" r="2.35" fill="#c9d8ec" stroke="#354a6c" stroke-width="1.3"/>
<circle cx="444.19" cy="186.15" r="2.35" fill="#c9d8ec" stroke="#354a6c" stroke-width="1.3"/>
<circle cx="444.19" cy="196.53" r="2.35" fill="#c9d8ec" stroke="#354a6c" stroke-width="1.3"/>
<circle cx="442.69" cy="199.99" r="2.35" fill="#c9d8ec" stroke="#354a6c" stroke-width="1.3"/>
<circle cx="445.57" cy="200.57" r="2.35" fill="#c9d8ec" stroke="#354a6c" stroke-width="1.3"/>
<circle cx="438.07" cy="204.60" r="2.35" fill="#c9d8ec" stroke="#354a6c" stroke-width="1.3"/>
<circle cx="441.53" cy="204.03" r="2.35" fill="#c9d8ec" stroke="#354a6c" stroke-width="1.3"/>
<circle cx="444.99" cy="204.60" r="2.35" fill="#c9d8ec" stroke="#354a6c" stroke-width="1.3"/>
<circle cx="449.03" cy="204.60" r="2.35" fill="#c9d8ec" stroke="#354a6c" stroke-width="1.3"/>
<circle cx="436.92" cy="208.06" r="2.35" fill="#c9d8ec" stroke="#354a6c" stroke-width="1.3"/>
<circle cx="440.38" cy="208.06" r="2.35" fill="#c9d8ec" stroke="#354a6c" stroke-width="1.3"/>
<circle cx="443.84" cy="208.64" r="2.35" fill="#c9d8ec" stroke="#354a6c" stroke-width="1.3"/>
<circle cx="447.30" cy="208.06" r="2.35" fill="#c9d8ec" stroke="#354a6c" stroke-width="1.3"/>
<circle cx="450.76" cy="208.06" r="2.35" fill="#c9d8ec" stroke="#354a6c" stroke-width="1.3"/>
<circle cx="439.23" cy="209.79" r="2.35" fill="#c9d8ec" stroke="#354a6c" stroke-width="1.3"/>
<circle cx="464.60" cy="202.30" r="2.9" fill="#c8102e"/>
<circle cx="477.70" cy="205.80" r="2.9" fill="#c8102e"/>
<circle cx="464.60" cy="210.40" r="2.9" fill="#c8102e"/>
<line x1="379.70" y1="197.90" x2="401.30" y2="197.90" stroke="#231f20" stroke-width="1.6"/>
<line x1="390.50" y1="196.70" x2="390.50" y2="199.10" stroke="#231f20" stroke-width="1.4"/>
<line x1="385.00" y1="196.70" x2="396.00" y2="196.70" stroke="#231f20" stroke-width="1.4"/>
<line x1="385.00" y1="199.10" x2="396.00" y2="199.10" stroke="#231f20" stroke-width="1.4"/>
<line x1="406.60" y1="185.80" x2="429.00" y2="185.80" stroke="#231f20" stroke-width="1.6"/>
<line x1="417.80" y1="180.70" x2="417.80" y2="190.60" stroke="#231f20" stroke-width="1.4"/>
<line x1="413.30" y1="180.70" x2="422.30" y2="180.70" stroke="#231f20" stroke-width="1.4"/>
<line x1="413.30" y1="190.60" x2="422.30" y2="190.60" stroke="#231f20" stroke-width="1.4"/>
<line x1="433.50" y1="194.00" x2="454.90" y2="194.00" stroke="#231f20" stroke-width="1.6"/>
<line x1="444.20" y1="186.30" x2="444.20" y2="200.00" stroke="#231f20" stroke-width="1.4"/>
<line x1="440.20" y1="186.30" x2="448.20" y2="186.30" stroke="#231f20" stroke-width="1.4"/>
<line x1="440.20" y1="200.00" x2="448.20" y2="200.00" stroke="#231f20" stroke-width="1.4"/>
<line x1="460.40" y1="206.30" x2="481.20" y2="206.30" stroke="#231f20" stroke-width="1.6"/>
<line x1="470.80" y1="204.00" x2="470.80" y2="208.00" stroke="#231f20" stroke-width="1.4"/>
<line x1="466.80" y1="204.00" x2="474.80" y2="204.00" stroke="#231f20" stroke-width="1.4"/>
<line x1="466.80" y1="208.00" x2="474.80" y2="208.00" stroke="#231f20" stroke-width="1.4"/>
<line x1="373.00" y1="106.00" x2="373.00" y2="212.35" stroke="#231f20" stroke-width="1.6"/>
<line x1="372.20" y1="211.60" x2="488.80" y2="211.60" stroke="#231f20" stroke-width="1.5"/>
<line x1="368.40" y1="211.60" x2="373.00" y2="211.60" stroke="#231f20" stroke-width="1.2"/>
<text x="363.80" y="215.90" font-size="12.3" fill="#231f20" text-anchor="end" stroke="#231f20" stroke-width="0.18" textLength="6.60" lengthAdjust="spacingAndGlyphs">0</text>
<line x1="368.40" y1="188.95" x2="373.00" y2="188.95" stroke="#231f20" stroke-width="1.2"/>
<text x="363.80" y="193.25" font-size="12.3" fill="#231f20" text-anchor="end" stroke="#231f20" stroke-width="0.18" textLength="19.80" lengthAdjust="spacingAndGlyphs">100</text>
<line x1="368.40" y1="166.30" x2="373.00" y2="166.30" stroke="#231f20" stroke-width="1.2"/>
<text x="363.80" y="170.60" font-size="12.3" fill="#231f20" text-anchor="end" stroke="#231f20" stroke-width="0.18" textLength="19.80" lengthAdjust="spacingAndGlyphs">200</text>
<line x1="368.40" y1="143.65" x2="373.00" y2="143.65" stroke="#231f20" stroke-width="1.2"/>
<text x="363.80" y="147.95" font-size="12.3" fill="#231f20" text-anchor="end" stroke="#231f20" stroke-width="0.18" textLength="19.80" lengthAdjust="spacingAndGlyphs">300</text>
<line x1="368.40" y1="121.00" x2="373.00" y2="121.00" stroke="#231f20" stroke-width="1.2"/>
<text x="363.80" y="125.30" font-size="12.3" fill="#231f20" text-anchor="end" stroke="#231f20" stroke-width="0.18" textLength="19.80" lengthAdjust="spacingAndGlyphs">400</text>
<line x1="370.80" y1="200.28" x2="373.00" y2="200.28" stroke="#231f20" stroke-width="1.1"/>
<line x1="370.80" y1="177.62" x2="373.00" y2="177.62" stroke="#231f20" stroke-width="1.1"/>
<line x1="370.80" y1="154.97" x2="373.00" y2="154.97" stroke="#231f20" stroke-width="1.1"/>
<line x1="370.80" y1="132.32" x2="373.00" y2="132.32" stroke="#231f20" stroke-width="1.1"/>
<line x1="390.50" y1="211.60" x2="390.50" y2="215.40" stroke="#231f20" stroke-width="1.4"/>
<text x="390.50" y="230.50" font-size="12.4" fill="#4fa64f" text-anchor="middle" stroke="#4fa64f" stroke-width="0.18" textLength="16.40" lengthAdjust="spacingAndGlyphs">NC</text>
<line x1="417.80" y1="211.60" x2="417.80" y2="215.40" stroke="#231f20" stroke-width="1.4"/>
<text x="417.80" y="230.50" font-size="12.4" fill="#f0a23a" text-anchor="middle" stroke="#f0a23a" stroke-width="0.18" textLength="13.40" lengthAdjust="spacingAndGlyphs">ET</text>
<line x1="444.20" y1="211.60" x2="444.20" y2="215.40" stroke="#231f20" stroke-width="1.4"/>
<text x="444.20" y="230.50" font-size="12.4" fill="#34517a" text-anchor="middle" stroke="#34517a" stroke-width="0.18" textLength="13.90" lengthAdjust="spacingAndGlyphs">PV</text>
<line x1="470.80" y1="211.60" x2="470.80" y2="215.40" stroke="#231f20" stroke-width="1.4"/>
<text x="470.80" y="230.50" font-size="12.4" fill="#b8173f" text-anchor="middle" stroke="#b8173f" stroke-width="0.18" textLength="19.90" lengthAdjust="spacingAndGlyphs">E12</text>
<rect x="53.60" y="366.80" width="119.30" height="32.98" fill="#d9d9d9"/>
<circle cx="69.92" cy="364.62" r="2.35" fill="#c4ecbc" stroke="#44a544" stroke-width="1.3"/>
<circle cx="71.92" cy="369.23" r="2.35" fill="#c4ecbc" stroke="#44a544" stroke-width="1.3"/>
<circle cx="75.77" cy="369.23" r="2.35" fill="#c4ecbc" stroke="#44a544" stroke-width="1.3"/>
<circle cx="68.85" cy="372.31" r="2.35" fill="#c4ecbc" stroke="#44a544" stroke-width="1.3"/>
<circle cx="73.46" cy="372.31" r="2.35" fill="#c4ecbc" stroke="#44a544" stroke-width="1.3"/>
<circle cx="66.54" cy="374.62" r="2.35" fill="#c4ecbc" stroke="#44a544" stroke-width="1.3"/>
<circle cx="71.15" cy="375.38" r="2.35" fill="#c4ecbc" stroke="#44a544" stroke-width="1.3"/>
<circle cx="75.77" cy="375.38" r="2.35" fill="#c4ecbc" stroke="#44a544" stroke-width="1.3"/>
<circle cx="69.62" cy="382.31" r="2.35" fill="#c4ecbc" stroke="#44a544" stroke-width="1.3"/>
<circle cx="74.23" cy="383.08" r="2.35" fill="#c4ecbc" stroke="#44a544" stroke-width="1.3"/>
<circle cx="65.00" cy="386.15" r="2.35" fill="#c4ecbc" stroke="#44a544" stroke-width="1.3"/>
<circle cx="68.85" cy="386.92" r="2.35" fill="#c4ecbc" stroke="#44a544" stroke-width="1.3"/>
<circle cx="73.46" cy="386.62" r="2.35" fill="#c4ecbc" stroke="#44a544" stroke-width="1.3"/>
<circle cx="77.31" cy="386.15" r="2.35" fill="#c4ecbc" stroke="#44a544" stroke-width="1.3"/>
<circle cx="67.31" cy="390.77" r="2.35" fill="#c4ecbc" stroke="#44a544" stroke-width="1.3"/>
<circle cx="71.92" cy="390.77" r="2.35" fill="#c4ecbc" stroke="#44a544" stroke-width="1.3"/>
<circle cx="75.77" cy="390.31" r="2.35" fill="#c4ecbc" stroke="#44a544" stroke-width="1.3"/>
<circle cx="98.84" cy="370.10" r="2.35" fill="#fee8bd" stroke="#f2a535" stroke-width="1.3"/>
<circle cx="97.72" cy="373.84" r="2.35" fill="#fee8bd" stroke="#f2a535" stroke-width="1.3"/>
<circle cx="101.45" cy="374.58" r="2.35" fill="#fee8bd" stroke="#f2a535" stroke-width="1.3"/>
<circle cx="94.72" cy="377.58" r="2.35" fill="#fee8bd" stroke="#f2a535" stroke-width="1.3"/>
<circle cx="98.84" cy="376.83" r="2.35" fill="#fee8bd" stroke="#f2a535" stroke-width="1.3"/>
<circle cx="103.70" cy="377.95" r="2.35" fill="#fee8bd" stroke="#f2a535" stroke-width="1.3"/>
<circle cx="92.48" cy="380.94" r="2.35" fill="#fee8bd" stroke="#f2a535" stroke-width="1.3"/>
<circle cx="96.22" cy="380.19" r="2.35" fill="#fee8bd" stroke="#f2a535" stroke-width="1.3"/>
<circle cx="100.33" cy="380.57" r="2.35" fill="#fee8bd" stroke="#f2a535" stroke-width="1.3"/>
<circle cx="105.19" cy="380.57" r="2.35" fill="#fee8bd" stroke="#f2a535" stroke-width="1.3"/>
<circle cx="90.98" cy="384.68" r="2.35" fill="#fee8bd" stroke="#f2a535" stroke-width="1.3"/>
<circle cx="107.44" cy="384.68" r="2.35" fill="#fee8bd" stroke="#f2a535" stroke-width="1.3"/>
<circle cx="93.98" cy="388.80" r="2.35" fill="#fee8bd" stroke="#f2a535" stroke-width="1.3"/>
<circle cx="98.46" cy="388.42" r="2.35" fill="#fee8bd" stroke="#f2a535" stroke-width="1.3"/>
<circle cx="102.95" cy="388.80" r="2.35" fill="#fee8bd" stroke="#f2a535" stroke-width="1.3"/>
<circle cx="106.69" cy="388.05" r="2.35" fill="#fee8bd" stroke="#f2a535" stroke-width="1.3"/>
<circle cx="93.23" cy="392.16" r="2.35" fill="#fee8bd" stroke="#f2a535" stroke-width="1.3"/>
<circle cx="97.34" cy="391.79" r="2.35" fill="#fee8bd" stroke="#f2a535" stroke-width="1.3"/>
<circle cx="101.83" cy="392.16" r="2.35" fill="#fee8bd" stroke="#f2a535" stroke-width="1.3"/>
<circle cx="105.19" cy="391.41" r="2.35" fill="#fee8bd" stroke="#f2a535" stroke-width="1.3"/>
<circle cx="95.10" cy="395.15" r="2.35" fill="#fee8bd" stroke="#f2a535" stroke-width="1.3"/>
<circle cx="99.58" cy="395.53" r="2.35" fill="#fee8bd" stroke="#f2a535" stroke-width="1.3"/>
<circle cx="103.32" cy="394.78" r="2.35" fill="#fee8bd" stroke="#f2a535" stroke-width="1.3"/>
<circle cx="97.34" cy="398.15" r="2.35" fill="#fee8bd" stroke="#f2a535" stroke-width="1.3"/>
<circle cx="100.33" cy="397.77" r="2.35" fill="#fee8bd" stroke="#f2a535" stroke-width="1.3"/>
<circle cx="98.84" cy="406.00" r="2.35" fill="#fee8bd" stroke="#f2a535" stroke-width="1.3"/>
<circle cx="126.92" cy="356.92" r="2.35" fill="#c9d8ec" stroke="#354a6c" stroke-width="1.3"/>
<circle cx="124.52" cy="365.75" r="2.35" fill="#c9d8ec" stroke="#354a6c" stroke-width="1.3"/>
<circle cx="133.50" cy="368.44" r="2.35" fill="#c9d8ec" stroke="#354a6c" stroke-width="1.3"/>
<circle cx="119.73" cy="373.23" r="2.35" fill="#c9d8ec" stroke="#354a6c" stroke-width="1.3"/>
<circle cx="124.52" cy="372.63" r="2.35" fill="#c9d8ec" stroke="#354a6c" stroke-width="1.3"/>
<circle cx="129.16" cy="371.74" r="2.35" fill="#c9d8ec" stroke="#354a6c" stroke-width="1.3"/>
<circle cx="133.50" cy="376.68" r="2.35" fill="#c9d8ec" stroke="#354a6c" stroke-width="1.3"/>
<circle cx="124.22" cy="379.67" r="2.35" fill="#c9d8ec" stroke="#354a6c" stroke-width="1.3"/>
<circle cx="129.16" cy="380.42" r="2.35" fill="#c9d8ec" stroke="#354a6c" stroke-width="1.3"/>
<circle cx="124.22" cy="388.20" r="2.35" fill="#c9d8ec" stroke="#354a6c" stroke-width="1.3"/>
<circle cx="129.16" cy="392.40" r="2.35" fill="#c9d8ec" stroke="#354a6c" stroke-width="1.3"/>
<circle cx="133.50" cy="394.64" r="2.35" fill="#c9d8ec" stroke="#354a6c" stroke-width="1.3"/>
<circle cx="124.52" cy="397.63" r="2.35" fill="#c9d8ec" stroke="#354a6c" stroke-width="1.3"/>
<circle cx="129.16" cy="398.83" r="2.35" fill="#c9d8ec" stroke="#354a6c" stroke-width="1.3"/>
<circle cx="126.92" cy="413.65" r="2.35" fill="#c9d8ec" stroke="#354a6c" stroke-width="1.3"/>
<circle cx="124.52" cy="384.16" r="2.35" fill="#c9d8ec" stroke="#354a6c" stroke-width="1.3"/>
<circle cx="154.46" cy="358.71" r="2.9" fill="#c8102e"/>
<circle cx="154.46" cy="380.12" r="2.9" fill="#c8102e"/>
<circle cx="154.46" cy="388.65" r="2.9" fill="#c8102e"/>
<line x1="60.00" y1="380.30" x2="82.40" y2="380.30" stroke="#231f20" stroke-width="1.6"/>
<line x1="71.20" y1="378.20" x2="71.20" y2="382.30" stroke="#231f20" stroke-width="1.4"/>
<line x1="67.20" y1="378.20" x2="75.20" y2="378.20" stroke="#231f20" stroke-width="1.4"/>
<line x1="67.20" y1="382.30" x2="75.20" y2="382.30" stroke="#231f20" stroke-width="1.4"/>
<line x1="87.60" y1="385.10" x2="110.40" y2="385.10" stroke="#231f20" stroke-width="1.6"/>
<line x1="99.00" y1="383.30" x2="99.00" y2="386.80" stroke="#231f20" stroke-width="1.4"/>
<line x1="94.50" y1="383.30" x2="103.50" y2="383.30" stroke="#231f20" stroke-width="1.4"/>
<line x1="94.50" y1="386.80" x2="103.50" y2="386.80" stroke="#231f20" stroke-width="1.4"/>
<line x1="116.10" y1="382.40" x2="137.70" y2="382.40" stroke="#231f20" stroke-width="1.6"/>
<line x1="126.90" y1="378.90" x2="126.90" y2="385.70" stroke="#231f20" stroke-width="1.4"/>
<line x1="122.90" y1="378.90" x2="130.90" y2="378.90" stroke="#231f20" stroke-width="1.4"/>
<line x1="122.90" y1="385.70" x2="130.90" y2="385.70" stroke="#231f20" stroke-width="1.4"/>
<line x1="143.30" y1="375.90" x2="165.70" y2="375.90" stroke="#231f20" stroke-width="1.6"/>
<line x1="154.50" y1="366.90" x2="154.50" y2="384.60" stroke="#231f20" stroke-width="1.4"/>
<line x1="150.50" y1="366.90" x2="158.50" y2="366.90" stroke="#231f20" stroke-width="1.4"/>
<line x1="150.50" y1="384.60" x2="158.50" y2="384.60" stroke="#231f20" stroke-width="1.4"/>
<line x1="53.00" y1="333.00" x2="53.00" y2="442.65" stroke="#231f20" stroke-width="1.6"/>
<line x1="52.20" y1="441.90" x2="172.90" y2="441.90" stroke="#231f20" stroke-width="1.5"/>
<line x1="48.40" y1="441.90" x2="53.00" y2="441.90" stroke="#231f20" stroke-width="1.2"/>
<text x="43.80" y="446.20" font-size="12.3" fill="#231f20" text-anchor="end" stroke="#231f20" stroke-width="0.18" textLength="6.60" lengthAdjust="spacingAndGlyphs">0</text>
<line x1="48.40" y1="420.84" x2="53.00" y2="420.84" stroke="#231f20" stroke-width="1.2"/>
<text x="43.80" y="425.14" font-size="12.3" fill="#231f20" text-anchor="end" stroke="#231f20" stroke-width="0.18" textLength="6.60" lengthAdjust="spacingAndGlyphs">1</text>
<line x1="48.40" y1="399.78" x2="53.00" y2="399.78" stroke="#231f20" stroke-width="1.2"/>
<text x="43.80" y="404.08" font-size="12.3" fill="#231f20" text-anchor="end" stroke="#231f20" stroke-width="0.18" textLength="6.60" lengthAdjust="spacingAndGlyphs">2</text>
<line x1="48.40" y1="378.72" x2="53.00" y2="378.72" stroke="#231f20" stroke-width="1.2"/>
<text x="43.80" y="383.02" font-size="12.3" fill="#231f20" text-anchor="end" stroke="#231f20" stroke-width="0.18" textLength="6.60" lengthAdjust="spacingAndGlyphs">3</text>
<line x1="48.40" y1="357.66" x2="53.00" y2="357.66" stroke="#231f20" stroke-width="1.2"/>
<text x="43.80" y="361.96" font-size="12.3" fill="#231f20" text-anchor="end" stroke="#231f20" stroke-width="0.18" textLength="6.60" lengthAdjust="spacingAndGlyphs">4</text>
<line x1="48.40" y1="336.60" x2="53.00" y2="336.60" stroke="#231f20" stroke-width="1.2"/>
<text x="43.80" y="340.90" font-size="12.3" fill="#231f20" text-anchor="end" stroke="#231f20" stroke-width="0.18" textLength="6.60" lengthAdjust="spacingAndGlyphs">5</text>
<line x1="50.80" y1="431.37" x2="53.00" y2="431.37" stroke="#231f20" stroke-width="1.1"/>
<line x1="50.80" y1="410.31" x2="53.00" y2="410.31" stroke="#231f20" stroke-width="1.1"/>
<line x1="50.80" y1="389.25" x2="53.00" y2="389.25" stroke="#231f20" stroke-width="1.1"/>
<line x1="50.80" y1="368.19" x2="53.00" y2="368.19" stroke="#231f20" stroke-width="1.1"/>
<line x1="50.80" y1="347.13" x2="53.00" y2="347.13" stroke="#231f20" stroke-width="1.1"/>
<line x1="71.20" y1="441.90" x2="71.20" y2="445.70" stroke="#231f20" stroke-width="1.4"/>
<text x="71.20" y="460.60" font-size="12.4" fill="#4fa64f" text-anchor="middle" stroke="#4fa64f" stroke-width="0.18" textLength="16.40" lengthAdjust="spacingAndGlyphs">NC</text>
<line x1="99.00" y1="441.90" x2="99.00" y2="445.70" stroke="#231f20" stroke-width="1.4"/>
<text x="99.00" y="460.60" font-size="12.4" fill="#f0a23a" text-anchor="middle" stroke="#f0a23a" stroke-width="0.18" textLength="13.40" lengthAdjust="spacingAndGlyphs">ET</text>
<line x1="126.90" y1="441.90" x2="126.90" y2="445.70" stroke="#231f20" stroke-width="1.4"/>
<text x="126.90" y="460.60" font-size="12.4" fill="#34517a" text-anchor="middle" stroke="#34517a" stroke-width="0.18" textLength="13.90" lengthAdjust="spacingAndGlyphs">PV</text>
<line x1="154.50" y1="441.90" x2="154.50" y2="445.70" stroke="#231f20" stroke-width="1.4"/>
<text x="154.50" y="460.60" font-size="12.4" fill="#b8173f" text-anchor="middle" stroke="#b8173f" stroke-width="0.18" textLength="19.90" lengthAdjust="spacingAndGlyphs">E12</text>
<rect x="206.10" y="394.34" width="119.90" height="30.48" fill="#d9d9d9"/>
<circle cx="227.69" cy="386.54" r="2.35" fill="#c4ecbc" stroke="#44a544" stroke-width="1.3"/>
<circle cx="221.08" cy="390.38" r="2.35" fill="#c4ecbc" stroke="#44a544" stroke-width="1.3"/>
<circle cx="227.23" cy="394.23" r="2.35" fill="#c4ecbc" stroke="#44a544" stroke-width="1.3"/>
<circle cx="221.08" cy="395.00" r="2.35" fill="#c4ecbc" stroke="#44a544" stroke-width="1.3"/>
<circle cx="224.15" cy="398.08" r="2.35" fill="#c4ecbc" stroke="#44a544" stroke-width="1.3"/>
<circle cx="220.31" cy="399.62" r="2.35" fill="#c4ecbc" stroke="#44a544" stroke-width="1.3"/>
<circle cx="223.38" cy="403.46" r="2.35" fill="#c4ecbc" stroke="#44a544" stroke-width="1.3"/>
<circle cx="218.00" cy="411.92" r="2.35" fill="#c4ecbc" stroke="#44a544" stroke-width="1.3"/>
<circle cx="222.62" cy="411.92" r="2.35" fill="#c4ecbc" stroke="#44a544" stroke-width="1.3"/>
<circle cx="227.23" cy="411.92" r="2.35" fill="#c4ecbc" stroke="#44a544" stroke-width="1.3"/>
<circle cx="231.08" cy="411.15" r="2.35" fill="#c4ecbc" stroke="#44a544" stroke-width="1.3"/>
<circle cx="220.31" cy="415.77" r="2.35" fill="#c4ecbc" stroke="#44a544" stroke-width="1.3"/>
<circle cx="224.92" cy="415.31" r="2.35" fill="#c4ecbc" stroke="#44a544" stroke-width="1.3"/>
<circle cx="230.31" cy="416.23" r="2.35" fill="#c4ecbc" stroke="#44a544" stroke-width="1.3"/>
<circle cx="219.54" cy="419.62" r="2.35" fill="#c4ecbc" stroke="#44a544" stroke-width="1.3"/>
<circle cx="227.23" cy="419.62" r="2.35" fill="#c4ecbc" stroke="#44a544" stroke-width="1.3"/>
<circle cx="221.08" cy="422.69" r="2.35" fill="#c4ecbc" stroke="#44a544" stroke-width="1.3"/>
<circle cx="251.85" cy="393.77" r="2.35" fill="#fee8bd" stroke="#f2a535" stroke-width="1.3"/>
<circle cx="251.08" cy="397.46" r="2.35" fill="#fee8bd" stroke="#f2a535" stroke-width="1.3"/>
<circle cx="252.92" cy="399.31" r="2.35" fill="#fee8bd" stroke="#f2a535" stroke-width="1.3"/>
<circle cx="251.69" cy="401.15" r="2.35" fill="#fee8bd" stroke="#f2a535" stroke-width="1.3"/>
<circle cx="251.08" cy="411.15" r="2.35" fill="#fee8bd" stroke="#f2a535" stroke-width="1.3"/>
<circle cx="254.92" cy="410.38" r="2.35" fill="#fee8bd" stroke="#f2a535" stroke-width="1.3"/>
<circle cx="244.92" cy="418.85" r="2.35" fill="#fee8bd" stroke="#f2a535" stroke-width="1.3"/>
<circle cx="249.54" cy="418.08" r="2.35" fill="#fee8bd" stroke="#f2a535" stroke-width="1.3"/>
<circle cx="254.15" cy="418.08" r="2.35" fill="#fee8bd" stroke="#f2a535" stroke-width="1.3"/>
<circle cx="258.77" cy="418.85" r="2.35" fill="#fee8bd" stroke="#f2a535" stroke-width="1.3"/>
<circle cx="245.69" cy="421.92" r="2.35" fill="#fee8bd" stroke="#f2a535" stroke-width="1.3"/>
<circle cx="251.08" cy="422.69" r="2.35" fill="#fee8bd" stroke="#f2a535" stroke-width="1.3"/>
<circle cx="256.46" cy="421.92" r="2.35" fill="#fee8bd" stroke="#f2a535" stroke-width="1.3"/>
<circle cx="244.15" cy="425.77" r="2.35" fill="#fee8bd" stroke="#f2a535" stroke-width="1.3"/>
<circle cx="248.77" cy="425.77" r="2.35" fill="#fee8bd" stroke="#f2a535" stroke-width="1.3"/>
<circle cx="253.38" cy="425.77" r="2.35" fill="#fee8bd" stroke="#f2a535" stroke-width="1.3"/>
<circle cx="257.23" cy="425.77" r="2.35" fill="#fee8bd" stroke="#f2a535" stroke-width="1.3"/>
<circle cx="247.23" cy="429.62" r="2.35" fill="#fee8bd" stroke="#f2a535" stroke-width="1.3"/>
<circle cx="251.85" cy="429.62" r="2.35" fill="#fee8bd" stroke="#f2a535" stroke-width="1.3"/>
<circle cx="255.69" cy="428.85" r="2.35" fill="#fee8bd" stroke="#f2a535" stroke-width="1.3"/>
<circle cx="249.54" cy="431.92" r="2.35" fill="#fee8bd" stroke="#f2a535" stroke-width="1.3"/>
<circle cx="254.15" cy="431.62" r="2.35" fill="#fee8bd" stroke="#f2a535" stroke-width="1.3"/>
<circle cx="248.00" cy="415.00" r="2.35" fill="#fee8bd" stroke="#f2a535" stroke-width="1.3"/>
<circle cx="254.15" cy="414.23" r="2.35" fill="#fee8bd" stroke="#f2a535" stroke-width="1.3"/>
<circle cx="277.50" cy="409.72" r="2.35" fill="#c9d8ec" stroke="#354a6c" stroke-width="1.3"/>
<circle cx="280.86" cy="408.38" r="2.35" fill="#c9d8ec" stroke="#354a6c" stroke-width="1.3"/>
<circle cx="284.23" cy="408.65" r="2.35" fill="#c9d8ec" stroke="#354a6c" stroke-width="1.3"/>
<circle cx="279.52" cy="411.61" r="2.35" fill="#c9d8ec" stroke="#354a6c" stroke-width="1.3"/>
<circle cx="282.21" cy="418.07" r="2.35" fill="#c9d8ec" stroke="#354a6c" stroke-width="1.3"/>
<circle cx="277.50" cy="421.43" r="2.35" fill="#c9d8ec" stroke="#354a6c" stroke-width="1.3"/>
<circle cx="280.86" cy="422.11" r="2.35" fill="#c9d8ec" stroke="#354a6c" stroke-width="1.3"/>
<circle cx="273.46" cy="431.53" r="2.35" fill="#c9d8ec" stroke="#354a6c" stroke-width="1.3"/>
<circle cx="277.50" cy="430.18" r="2.35" fill="#c9d8ec" stroke="#354a6c" stroke-width="1.3"/>
<circle cx="281.53" cy="430.18" r="2.35" fill="#c9d8ec" stroke="#354a6c" stroke-width="1.3"/>
<circle cx="284.90" cy="431.53" r="2.35" fill="#c9d8ec" stroke="#354a6c" stroke-width="1.3"/>
<circle cx="273.46" cy="434.22" r="2.35" fill="#c9d8ec" stroke="#354a6c" stroke-width="1.3"/>
<circle cx="277.50" cy="434.89" r="2.35" fill="#c9d8ec" stroke="#354a6c" stroke-width="1.3"/>
<circle cx="281.53" cy="434.89" r="2.35" fill="#c9d8ec" stroke="#354a6c" stroke-width="1.3"/>
<circle cx="286.92" cy="434.22" r="2.35" fill="#c9d8ec" stroke="#354a6c" stroke-width="1.3"/>
<circle cx="284.90" cy="436.24" r="2.35" fill="#c9d8ec" stroke="#354a6c" stroke-width="1.3"/>
<circle cx="301.05" cy="436.64" r="2.9" fill="#c8102e"/>
<circle cx="307.38" cy="436.64" r="2.9" fill="#c8102e"/>
<circle cx="314.24" cy="436.64" r="2.9" fill="#c8102e"/>
<line x1="212.40" y1="406.80" x2="234.80" y2="406.80" stroke="#231f20" stroke-width="1.6"/>
<line x1="223.60" y1="403.50" x2="223.60" y2="408.80" stroke="#231f20" stroke-width="1.4"/>
<line x1="219.60" y1="403.50" x2="227.60" y2="403.50" stroke="#231f20" stroke-width="1.4"/>
<line x1="219.60" y1="408.80" x2="227.60" y2="408.80" stroke="#231f20" stroke-width="1.4"/>
<line x1="240.60" y1="415.50" x2="263.00" y2="415.50" stroke="#231f20" stroke-width="1.6"/>
<line x1="251.80" y1="411.90" x2="251.80" y2="418.50" stroke="#231f20" stroke-width="1.4"/>
<line x1="247.80" y1="411.90" x2="255.80" y2="411.90" stroke="#231f20" stroke-width="1.4"/>
<line x1="247.80" y1="418.50" x2="255.80" y2="418.50" stroke="#231f20" stroke-width="1.4"/>
<line x1="268.30" y1="424.80" x2="291.10" y2="424.80" stroke="#231f20" stroke-width="1.6"/>
<line x1="279.70" y1="420.50" x2="279.70" y2="426.80" stroke="#231f20" stroke-width="1.4"/>
<line x1="275.70" y1="420.50" x2="283.70" y2="420.50" stroke="#231f20" stroke-width="1.4"/>
<line x1="275.70" y1="426.80" x2="283.70" y2="426.80" stroke="#231f20" stroke-width="1.4"/>
<line x1="296.70" y1="436.60" x2="319.50" y2="436.60" stroke="#231f20" stroke-width="1.6"/>
<line x1="205.50" y1="332.00" x2="205.50" y2="442.35" stroke="#231f20" stroke-width="1.6"/>
<line x1="204.70" y1="441.60" x2="326.00" y2="441.60" stroke="#231f20" stroke-width="1.5"/>
<line x1="200.90" y1="441.60" x2="205.50" y2="441.60" stroke="#231f20" stroke-width="1.2"/>
<text x="196.30" y="445.90" font-size="12.3" fill="#231f20" text-anchor="end" stroke="#231f20" stroke-width="0.18" textLength="6.60" lengthAdjust="spacingAndGlyphs">0</text>
<line x1="200.90" y1="420.36" x2="205.50" y2="420.36" stroke="#231f20" stroke-width="1.2"/>
<text x="196.30" y="424.66" font-size="12.3" fill="#231f20" text-anchor="end" stroke="#231f20" stroke-width="0.18" textLength="13.20" lengthAdjust="spacingAndGlyphs">20</text>
<line x1="200.90" y1="399.12" x2="205.50" y2="399.12" stroke="#231f20" stroke-width="1.2"/>
<text x="196.30" y="403.42" font-size="12.3" fill="#231f20" text-anchor="end" stroke="#231f20" stroke-width="0.18" textLength="13.20" lengthAdjust="spacingAndGlyphs">40</text>
<line x1="200.90" y1="377.88" x2="205.50" y2="377.88" stroke="#231f20" stroke-width="1.2"/>
<text x="196.30" y="382.18" font-size="12.3" fill="#231f20" text-anchor="end" stroke="#231f20" stroke-width="0.18" textLength="13.20" lengthAdjust="spacingAndGlyphs">60</text>
<line x1="200.90" y1="356.64" x2="205.50" y2="356.64" stroke="#231f20" stroke-width="1.2"/>
<text x="196.30" y="360.94" font-size="12.3" fill="#231f20" text-anchor="end" stroke="#231f20" stroke-width="0.18" textLength="13.20" lengthAdjust="spacingAndGlyphs">80</text>
<line x1="200.90" y1="335.40" x2="205.50" y2="335.40" stroke="#231f20" stroke-width="1.2"/>
<text x="196.30" y="339.70" font-size="12.3" fill="#231f20" text-anchor="end" stroke="#231f20" stroke-width="0.18" textLength="19.80" lengthAdjust="spacingAndGlyphs">100</text>
<line x1="203.30" y1="430.98" x2="205.50" y2="430.98" stroke="#231f20" stroke-width="1.1"/>
<line x1="203.30" y1="409.74" x2="205.50" y2="409.74" stroke="#231f20" stroke-width="1.1"/>
<line x1="203.30" y1="388.50" x2="205.50" y2="388.50" stroke="#231f20" stroke-width="1.1"/>
<line x1="203.30" y1="367.26" x2="205.50" y2="367.26" stroke="#231f20" stroke-width="1.1"/>
<line x1="203.30" y1="346.02" x2="205.50" y2="346.02" stroke="#231f20" stroke-width="1.1"/>
<line x1="223.60" y1="441.60" x2="223.60" y2="445.40" stroke="#231f20" stroke-width="1.4"/>
<text x="223.60" y="460.50" font-size="12.4" fill="#4fa64f" text-anchor="middle" stroke="#4fa64f" stroke-width="0.18" textLength="16.40" lengthAdjust="spacingAndGlyphs">NC</text>
<line x1="251.80" y1="441.60" x2="251.80" y2="445.40" stroke="#231f20" stroke-width="1.4"/>
<text x="251.80" y="460.50" font-size="12.4" fill="#f0a23a" text-anchor="middle" stroke="#f0a23a" stroke-width="0.18" textLength="13.40" lengthAdjust="spacingAndGlyphs">ET</text>
<line x1="279.70" y1="441.60" x2="279.70" y2="445.40" stroke="#231f20" stroke-width="1.4"/>
<text x="279.70" y="460.50" font-size="12.4" fill="#34517a" text-anchor="middle" stroke="#34517a" stroke-width="0.18" textLength="13.90" lengthAdjust="spacingAndGlyphs">PV</text>
<line x1="308.10" y1="441.60" x2="308.10" y2="445.40" stroke="#231f20" stroke-width="1.4"/>
<text x="308.10" y="460.50" font-size="12.4" fill="#b8173f" text-anchor="middle" stroke="#b8173f" stroke-width="0.18" textLength="19.90" lengthAdjust="spacingAndGlyphs">E12</text>
<path d="M223.60,350.30 V348.10 H308.10 V350.30" fill="none" stroke="#231f20" stroke-width="1.25"/>
<polygon points="260.35,341.75 261.00,343.31 262.68,343.44 261.40,344.54 261.79,346.18 260.35,345.30 258.91,346.18 259.30,344.54 258.02,343.44 259.70,343.31" fill="#231f20"/>
<polygon points="265.85,341.75 266.50,343.31 268.18,343.44 266.90,344.54 267.29,346.18 265.85,345.30 264.41,346.18 264.80,344.54 263.52,343.44 265.20,343.31" fill="#231f20"/>
<polygon points="271.35,341.75 272.00,343.31 273.68,343.44 272.40,344.54 272.79,346.18 271.35,345.30 269.91,346.18 270.30,344.54 269.02,343.44 270.70,343.31" fill="#231f20"/>
<path d="M251.80,359.00 V356.80 H308.10 V359.00" fill="none" stroke="#231f20" stroke-width="1.25"/>
<polygon points="279.95,350.75 280.60,352.31 282.28,352.44 281.00,353.54 281.39,355.18 279.95,354.30 278.51,355.18 278.90,353.54 277.62,352.44 279.30,352.31" fill="#231f20"/>
<path d="M223.60,369.30 V367.10 H279.70 V369.30" fill="none" stroke="#231f20" stroke-width="1.25"/>
<polygon points="246.15,360.65 246.80,362.21 248.48,362.34 247.20,363.44 247.59,365.08 246.15,364.20 244.71,365.08 245.10,363.44 243.82,362.34 245.50,362.21" fill="#231f20"/>
<polygon points="251.65,360.65 252.30,362.21 253.98,362.34 252.70,363.44 253.09,365.08 251.65,364.20 250.21,365.08 250.60,363.44 249.32,362.34 251.00,362.21" fill="#231f20"/>
<polygon points="257.15,360.65 257.80,362.21 259.48,362.34 258.20,363.44 258.59,365.08 257.15,364.20 255.71,365.08 256.10,363.44 254.82,362.34 256.50,362.21" fill="#231f20"/>
<path d="M251.80,377.20 V375.00 H279.70 V377.20" fill="none" stroke="#231f20" stroke-width="1.25"/>
<polygon points="265.75,368.35 266.40,369.91 268.08,370.04 266.80,371.14 267.19,372.78 265.75,371.90 264.31,372.78 264.70,371.14 263.42,370.04 265.10,369.91" fill="#231f20"/>
<rect x="373.20" y="426.21" width="111.80" height="6.98" fill="#d9d9d9"/>
<circle cx="384.23" cy="433.08" r="2.35" fill="#c4ecbc" stroke="#44a544" stroke-width="1.3"/>
<circle cx="388.08" cy="433.85" r="2.35" fill="#c4ecbc" stroke="#44a544" stroke-width="1.3"/>
<circle cx="391.92" cy="433.85" r="2.35" fill="#c4ecbc" stroke="#44a544" stroke-width="1.3"/>
<circle cx="395.77" cy="433.08" r="2.35" fill="#c4ecbc" stroke="#44a544" stroke-width="1.3"/>
<circle cx="385.77" cy="430.00" r="2.35" fill="#c4ecbc" stroke="#44a544" stroke-width="1.3"/>
<circle cx="389.62" cy="429.23" r="2.35" fill="#c4ecbc" stroke="#44a544" stroke-width="1.3"/>
<circle cx="393.46" cy="428.92" r="2.35" fill="#c4ecbc" stroke="#44a544" stroke-width="1.3"/>
<circle cx="397.31" cy="430.77" r="2.35" fill="#c4ecbc" stroke="#44a544" stroke-width="1.3"/>
<circle cx="388.08" cy="426.92" r="2.35" fill="#c4ecbc" stroke="#44a544" stroke-width="1.3"/>
<circle cx="391.92" cy="426.15" r="2.35" fill="#c4ecbc" stroke="#44a544" stroke-width="1.3"/>
<circle cx="384.23" cy="431.54" r="2.35" fill="#c4ecbc" stroke="#44a544" stroke-width="1.3"/>
<circle cx="398.08" cy="432.31" r="2.35" fill="#c4ecbc" stroke="#44a544" stroke-width="1.3"/>
<circle cx="390.38" cy="432.31" r="2.35" fill="#c4ecbc" stroke="#44a544" stroke-width="1.3"/>
<circle cx="394.23" cy="434.62" r="2.35" fill="#c4ecbc" stroke="#44a544" stroke-width="1.3"/>
<circle cx="386.54" cy="434.62" r="2.35" fill="#c4ecbc" stroke="#44a544" stroke-width="1.3"/>
<circle cx="391.15" cy="430.77" r="2.35" fill="#c4ecbc" stroke="#44a544" stroke-width="1.3"/>
<circle cx="415.31" cy="419.23" r="2.35" fill="#fee8bd" stroke="#f2a535" stroke-width="1.3"/>
<circle cx="415.77" cy="421.54" r="2.35" fill="#fee8bd" stroke="#f2a535" stroke-width="1.3"/>
<circle cx="415.31" cy="423.85" r="2.35" fill="#fee8bd" stroke="#f2a535" stroke-width="1.3"/>
<circle cx="414.69" cy="426.15" r="2.35" fill="#fee8bd" stroke="#f2a535" stroke-width="1.3"/>
<circle cx="416.54" cy="426.15" r="2.35" fill="#fee8bd" stroke="#f2a535" stroke-width="1.3"/>
<circle cx="413.46" cy="428.46" r="2.35" fill="#fee8bd" stroke="#f2a535" stroke-width="1.3"/>
<circle cx="417.31" cy="428.46" r="2.35" fill="#fee8bd" stroke="#f2a535" stroke-width="1.3"/>
<circle cx="410.38" cy="430.77" r="2.35" fill="#fee8bd" stroke="#f2a535" stroke-width="1.3"/>
<circle cx="414.23" cy="430.77" r="2.35" fill="#fee8bd" stroke="#f2a535" stroke-width="1.3"/>
<circle cx="418.08" cy="430.77" r="2.35" fill="#fee8bd" stroke="#f2a535" stroke-width="1.3"/>
<circle cx="421.92" cy="430.77" r="2.35" fill="#fee8bd" stroke="#f2a535" stroke-width="1.3"/>
<circle cx="408.85" cy="433.08" r="2.35" fill="#fee8bd" stroke="#f2a535" stroke-width="1.3"/>
<circle cx="412.69" cy="433.08" r="2.35" fill="#fee8bd" stroke="#f2a535" stroke-width="1.3"/>
<circle cx="416.54" cy="433.08" r="2.35" fill="#fee8bd" stroke="#f2a535" stroke-width="1.3"/>
<circle cx="420.38" cy="433.08" r="2.35" fill="#fee8bd" stroke="#f2a535" stroke-width="1.3"/>
<circle cx="424.23" cy="433.08" r="2.35" fill="#fee8bd" stroke="#f2a535" stroke-width="1.3"/>
<circle cx="411.15" cy="434.62" r="2.35" fill="#fee8bd" stroke="#f2a535" stroke-width="1.3"/>
<circle cx="415.00" cy="434.62" r="2.35" fill="#fee8bd" stroke="#f2a535" stroke-width="1.3"/>
<circle cx="419.62" cy="434.62" r="2.35" fill="#fee8bd" stroke="#f2a535" stroke-width="1.3"/>
<circle cx="422.69" cy="434.62" r="2.35" fill="#fee8bd" stroke="#f2a535" stroke-width="1.3"/>
<circle cx="413.46" cy="435.38" r="2.35" fill="#fee8bd" stroke="#f2a535" stroke-width="1.3"/>
<circle cx="418.08" cy="435.38" r="2.35" fill="#fee8bd" stroke="#f2a535" stroke-width="1.3"/>
<circle cx="415.77" cy="432.31" r="2.35" fill="#fee8bd" stroke="#f2a535" stroke-width="1.3"/>
<circle cx="411.92" cy="429.23" r="2.35" fill="#fee8bd" stroke="#f2a535" stroke-width="1.3"/>
<circle cx="419.62" cy="429.23" r="2.35" fill="#fee8bd" stroke="#f2a535" stroke-width="1.3"/>
<circle cx="441.92" cy="396.62" r="2.35" fill="#c9d8ec" stroke="#354a6c" stroke-width="1.3"/>
<circle cx="441.50" cy="351.20" r="2.35" fill="#c9d8ec" stroke="#354a6c" stroke-width="1.3"/>
<circle cx="438.08" cy="407.69" r="2.35" fill="#c9d8ec" stroke="#354a6c" stroke-width="1.3"/>
<circle cx="445.00" cy="407.69" r="2.35" fill="#c9d8ec" stroke="#354a6c" stroke-width="1.3"/>
<circle cx="441.15" cy="410.77" r="2.35" fill="#c9d8ec" stroke="#354a6c" stroke-width="1.3"/>
<circle cx="442.69" cy="417.69" r="2.35" fill="#c9d8ec" stroke="#354a6c" stroke-width="1.3"/>
<circle cx="448.08" cy="419.23" r="2.35" fill="#c9d8ec" stroke="#354a6c" stroke-width="1.3"/>
<circle cx="438.08" cy="421.85" r="2.35" fill="#c9d8ec" stroke="#354a6c" stroke-width="1.3"/>
<circle cx="443.46" cy="422.31" r="2.35" fill="#c9d8ec" stroke="#354a6c" stroke-width="1.3"/>
<circle cx="438.85" cy="425.38" r="2.35" fill="#c9d8ec" stroke="#354a6c" stroke-width="1.3"/>
<circle cx="445.00" cy="424.62" r="2.35" fill="#c9d8ec" stroke="#354a6c" stroke-width="1.3"/>
<circle cx="441.15" cy="426.15" r="2.35" fill="#c9d8ec" stroke="#354a6c" stroke-width="1.3"/>
<circle cx="435.00" cy="429.23" r="2.35" fill="#c9d8ec" stroke="#354a6c" stroke-width="1.3"/>
<circle cx="441.15" cy="429.23" r="2.35" fill="#c9d8ec" stroke="#354a6c" stroke-width="1.3"/>
<circle cx="447.31" cy="430.00" r="2.35" fill="#c9d8ec" stroke="#354a6c" stroke-width="1.3"/>
<circle cx="444.23" cy="431.54" r="2.35" fill="#c9d8ec" stroke="#354a6c" stroke-width="1.3"/>
<circle cx="468.10" cy="341.40" r="2.9" fill="#c8102e"/>
<circle cx="468.40" cy="365.00" r="2.9" fill="#c8102e"/>
<circle cx="468.40" cy="387.90" r="2.9" fill="#c8102e"/>
<line x1="378.80" y1="431.20" x2="400.40" y2="431.20" stroke="#231f20" stroke-width="1.6"/>
<line x1="389.60" y1="430.50" x2="389.60" y2="432.00" stroke="#231f20" stroke-width="1.4"/>
<line x1="385.60" y1="430.50" x2="393.60" y2="430.50" stroke="#231f20" stroke-width="1.4"/>
<line x1="385.60" y1="432.00" x2="393.60" y2="432.00" stroke="#231f20" stroke-width="1.4"/>
<line x1="404.90" y1="430.00" x2="426.50" y2="430.00" stroke="#231f20" stroke-width="1.6"/>
<line x1="415.70" y1="429.00" x2="415.70" y2="431.00" stroke="#231f20" stroke-width="1.4"/>
<line x1="411.70" y1="429.00" x2="419.70" y2="429.00" stroke="#231f20" stroke-width="1.4"/>
<line x1="411.70" y1="431.00" x2="419.70" y2="431.00" stroke="#231f20" stroke-width="1.4"/>
<line x1="431.30" y1="415.10" x2="452.90" y2="415.10" stroke="#231f20" stroke-width="1.6"/>
<line x1="442.10" y1="409.40" x2="442.10" y2="420.50" stroke="#231f20" stroke-width="1.4"/>
<line x1="438.10" y1="409.40" x2="446.10" y2="409.40" stroke="#231f20" stroke-width="1.4"/>
<line x1="438.10" y1="420.50" x2="446.10" y2="420.50" stroke="#231f20" stroke-width="1.4"/>
<line x1="457.60" y1="365.00" x2="479.20" y2="365.00" stroke="#231f20" stroke-width="1.6"/>
<line x1="468.40" y1="351.20" x2="468.40" y2="378.60" stroke="#231f20" stroke-width="1.4"/>
<line x1="464.40" y1="351.20" x2="472.40" y2="351.20" stroke="#231f20" stroke-width="1.4"/>
<line x1="464.40" y1="378.60" x2="472.40" y2="378.60" stroke="#231f20" stroke-width="1.4"/>
<line x1="372.60" y1="337.70" x2="372.60" y2="441.05" stroke="#231f20" stroke-width="1.6"/>
<line x1="371.80" y1="440.30" x2="485.00" y2="440.30" stroke="#231f20" stroke-width="1.5"/>
<line x1="368.00" y1="440.30" x2="372.60" y2="440.30" stroke="#231f20" stroke-width="1.2"/>
<text x="363.40" y="444.60" font-size="12.3" fill="#231f20" text-anchor="end" stroke="#231f20" stroke-width="0.18" textLength="6.60" lengthAdjust="spacingAndGlyphs">0</text>
<line x1="368.00" y1="407.23" x2="372.60" y2="407.23" stroke="#231f20" stroke-width="1.2"/>
<text x="363.40" y="411.53" font-size="12.3" fill="#231f20" text-anchor="end" stroke="#231f20" stroke-width="0.18" textLength="13.20" lengthAdjust="spacingAndGlyphs">10</text>
<line x1="368.00" y1="374.16" x2="372.60" y2="374.16" stroke="#231f20" stroke-width="1.2"/>
<text x="363.40" y="378.46" font-size="12.3" fill="#231f20" text-anchor="end" stroke="#231f20" stroke-width="0.18" textLength="13.20" lengthAdjust="spacingAndGlyphs">20</text>
<line x1="368.00" y1="341.09" x2="372.60" y2="341.09" stroke="#231f20" stroke-width="1.2"/>
<text x="363.40" y="345.39" font-size="12.3" fill="#231f20" text-anchor="end" stroke="#231f20" stroke-width="0.18" textLength="13.20" lengthAdjust="spacingAndGlyphs">30</text>
<line x1="370.40" y1="423.76" x2="372.60" y2="423.76" stroke="#231f20" stroke-width="1.1"/>
<line x1="370.40" y1="390.69" x2="372.60" y2="390.69" stroke="#231f20" stroke-width="1.1"/>
<line x1="370.40" y1="357.62" x2="372.60" y2="357.62" stroke="#231f20" stroke-width="1.1"/>
<line x1="389.60" y1="440.30" x2="389.60" y2="444.10" stroke="#231f20" stroke-width="1.4"/>
<text x="389.60" y="460.50" font-size="12.4" fill="#4fa64f" text-anchor="middle" stroke="#4fa64f" stroke-width="0.18" textLength="16.40" lengthAdjust="spacingAndGlyphs">NC</text>
<line x1="415.70" y1="440.30" x2="415.70" y2="444.10" stroke="#231f20" stroke-width="1.4"/>
<text x="415.70" y="460.50" font-size="12.4" fill="#f0a23a" text-anchor="middle" stroke="#f0a23a" stroke-width="0.18" textLength="13.40" lengthAdjust="spacingAndGlyphs">ET</text>
<line x1="442.10" y1="440.30" x2="442.10" y2="444.10" stroke="#231f20" stroke-width="1.4"/>
<text x="442.10" y="460.50" font-size="12.4" fill="#34517a" text-anchor="middle" stroke="#34517a" stroke-width="0.18" textLength="13.90" lengthAdjust="spacingAndGlyphs">PV</text>
<line x1="468.40" y1="440.30" x2="468.40" y2="444.10" stroke="#231f20" stroke-width="1.4"/>
<text x="468.40" y="460.50" font-size="12.4" fill="#b8173f" text-anchor="middle" stroke="#b8173f" stroke-width="0.18" textLength="19.90" lengthAdjust="spacingAndGlyphs">E12</text>
<path d="M389.60,309.80 V307.60 H468.40 V309.80" fill="none" stroke="#231f20" stroke-width="1.25"/>
<polygon points="420.75,299.65 421.40,301.21 423.08,301.34 421.80,302.44 422.19,304.08 420.75,303.20 419.31,304.08 419.70,302.44 418.42,301.34 420.10,301.21" fill="#231f20"/>
<polygon points="426.25,299.65 426.90,301.21 428.58,301.34 427.30,302.44 427.69,304.08 426.25,303.20 424.81,304.08 425.20,302.44 423.92,301.34 425.60,301.21" fill="#231f20"/>
<polygon points="431.75,299.65 432.40,301.21 434.08,301.34 432.80,302.44 433.19,304.08 431.75,303.20 430.31,304.08 430.70,302.44 429.42,301.34 431.10,301.21" fill="#231f20"/>
<polygon points="437.25,299.65 437.90,301.21 439.58,301.34 438.30,302.44 438.69,304.08 437.25,303.20 435.81,304.08 436.20,302.44 434.92,301.34 436.60,301.21" fill="#231f20"/>
<path d="M415.70,322.60 V320.40 H468.40 V322.60" fill="none" stroke="#231f20" stroke-width="1.25"/>
<polygon points="433.80,310.85 434.45,312.41 436.13,312.54 434.85,313.64 435.24,315.28 433.80,314.40 432.36,315.28 432.75,313.64 431.47,312.54 433.15,312.41" fill="#231f20"/>
<polygon points="439.30,310.85 439.95,312.41 441.63,312.54 440.35,313.64 440.74,315.28 439.30,314.40 437.86,315.28 438.25,313.64 436.97,312.54 438.65,312.41" fill="#231f20"/>
<polygon points="444.80,310.85 445.45,312.41 447.13,312.54 445.85,313.64 446.24,315.28 444.80,314.40 443.36,315.28 443.75,313.64 442.47,312.54 444.15,312.41" fill="#231f20"/>
<polygon points="450.30,310.85 450.95,312.41 452.63,312.54 451.35,313.64 451.74,315.28 450.30,314.40 448.86,315.28 449.25,313.64 447.97,312.54 449.65,312.41" fill="#231f20"/>
<path d="M389.60,335.60 V333.40 H442.10 V335.60" fill="none" stroke="#231f20" stroke-width="1.25"/>
<polygon points="410.35,325.25 411.00,326.81 412.68,326.94 411.40,328.04 411.79,329.68 410.35,328.80 408.91,329.68 409.30,328.04 408.02,326.94 409.70,326.81" fill="#231f20"/>
<polygon points="415.85,325.25 416.50,326.81 418.18,326.94 416.90,328.04 417.29,329.68 415.85,328.80 414.41,329.68 414.80,328.04 413.52,326.94 415.20,326.81" fill="#231f20"/>
<polygon points="421.35,325.25 422.00,326.81 423.68,326.94 422.40,328.04 422.79,329.68 421.35,328.80 419.91,329.68 420.30,328.04 419.02,326.94 420.70,326.81" fill="#231f20"/>
<path d="M442.10,335.60 V333.40 H468.40 V335.60" fill="none" stroke="#231f20" stroke-width="1.25"/>
<polygon points="447.00,325.25 447.65,326.81 449.33,326.94 448.05,328.04 448.44,329.68 447.00,328.80 445.56,329.68 445.95,328.04 444.67,326.94 446.35,326.81" fill="#231f20"/>
<polygon points="452.50,325.25 453.15,326.81 454.83,326.94 453.55,328.04 453.94,329.68 452.50,328.80 451.06,329.68 451.45,328.04 450.17,326.94 451.85,326.81" fill="#231f20"/>
<polygon points="458.00,325.25 458.65,326.81 460.33,326.94 459.05,328.04 459.44,329.68 458.00,328.80 456.56,329.68 456.95,328.04 455.67,326.94 457.35,326.81" fill="#231f20"/>
<polygon points="463.50,325.25 464.15,326.81 465.83,326.94 464.55,328.04 464.94,329.68 463.50,328.80 462.06,329.68 462.45,328.04 461.17,326.94 462.85,326.81" fill="#231f20"/>
<path d="M415.70,344.70 V342.50 H442.10 V344.70" fill="none" stroke="#231f20" stroke-width="1.25"/>
<polygon points="423.40,336.25 424.05,337.81 425.73,337.94 424.45,339.04 424.84,340.68 423.40,339.80 421.96,340.68 422.35,339.04 421.07,337.94 422.75,337.81" fill="#231f20"/>
<polygon points="428.90,336.25 429.55,337.81 431.23,337.94 429.95,339.04 430.34,340.68 428.90,339.80 427.46,340.68 427.85,339.04 426.57,337.94 428.25,337.81" fill="#231f20"/>
<polygon points="434.40,336.25 435.05,337.81 436.73,337.94 435.45,339.04 435.84,340.68 434.40,339.80 432.96,340.68 433.35,339.04 432.07,337.94 433.75,337.81" fill="#231f20"/>
<circle cx="71.62" cy="651.54" r="2.35" fill="#c4ecbc" stroke="#44a544" stroke-width="1.3"/>
<circle cx="67.00" cy="654.15" r="2.35" fill="#c4ecbc" stroke="#44a544" stroke-width="1.3"/>
<circle cx="71.15" cy="670.00" r="2.35" fill="#c4ecbc" stroke="#44a544" stroke-width="1.3"/>
<circle cx="67.31" cy="672.31" r="2.35" fill="#c4ecbc" stroke="#44a544" stroke-width="1.3"/>
<circle cx="63.46" cy="681.54" r="2.35" fill="#c4ecbc" stroke="#44a544" stroke-width="1.3"/>
<circle cx="67.31" cy="682.31" r="2.35" fill="#c4ecbc" stroke="#44a544" stroke-width="1.3"/>
<circle cx="71.15" cy="682.31" r="2.35" fill="#c4ecbc" stroke="#44a544" stroke-width="1.3"/>
<circle cx="75.77" cy="683.08" r="2.35" fill="#c4ecbc" stroke="#44a544" stroke-width="1.3"/>
<circle cx="63.46" cy="686.15" r="2.35" fill="#c4ecbc" stroke="#44a544" stroke-width="1.3"/>
<circle cx="71.92" cy="684.62" r="2.35" fill="#c4ecbc" stroke="#44a544" stroke-width="1.3"/>
<circle cx="99.31" cy="608.46" r="2.35" fill="#fee8bd" stroke="#f2a535" stroke-width="1.3"/>
<circle cx="95.77" cy="613.85" r="2.35" fill="#fee8bd" stroke="#f2a535" stroke-width="1.3"/>
<circle cx="99.31" cy="620.77" r="2.35" fill="#fee8bd" stroke="#f2a535" stroke-width="1.3"/>
<circle cx="96.23" cy="623.08" r="2.35" fill="#fee8bd" stroke="#f2a535" stroke-width="1.3"/>
<circle cx="94.69" cy="633.08" r="2.35" fill="#fee8bd" stroke="#f2a535" stroke-width="1.3"/>
<circle cx="98.08" cy="635.08" r="2.35" fill="#fee8bd" stroke="#f2a535" stroke-width="1.3"/>
<circle cx="89.62" cy="653.85" r="2.35" fill="#fee8bd" stroke="#f2a535" stroke-width="1.3"/>
<circle cx="94.23" cy="654.15" r="2.35" fill="#fee8bd" stroke="#f2a535" stroke-width="1.3"/>
<circle cx="99.62" cy="654.15" r="2.35" fill="#fee8bd" stroke="#f2a535" stroke-width="1.3"/>
<circle cx="88.85" cy="658.46" r="2.35" fill="#fee8bd" stroke="#f2a535" stroke-width="1.3"/>
<circle cx="93.46" cy="658.46" r="2.35" fill="#fee8bd" stroke="#f2a535" stroke-width="1.3"/>
<circle cx="98.08" cy="659.23" r="2.35" fill="#fee8bd" stroke="#f2a535" stroke-width="1.3"/>
<circle cx="89.62" cy="666.15" r="2.35" fill="#fee8bd" stroke="#f2a535" stroke-width="1.3"/>
<circle cx="90.38" cy="677.69" r="2.35" fill="#fee8bd" stroke="#f2a535" stroke-width="1.3"/>
<circle cx="95.77" cy="675.38" r="2.35" fill="#fee8bd" stroke="#f2a535" stroke-width="1.3"/>
<circle cx="99.62" cy="678.46" r="2.35" fill="#fee8bd" stroke="#f2a535" stroke-width="1.3"/>
<circle cx="94.23" cy="682.31" r="2.35" fill="#fee8bd" stroke="#f2a535" stroke-width="1.3"/>
<circle cx="102.69" cy="682.31" r="2.35" fill="#fee8bd" stroke="#f2a535" stroke-width="1.3"/>
<circle cx="88.85" cy="684.62" r="2.35" fill="#fee8bd" stroke="#f2a535" stroke-width="1.3"/>
<circle cx="92.69" cy="686.15" r="2.35" fill="#fee8bd" stroke="#f2a535" stroke-width="1.3"/>
<circle cx="98.85" cy="684.62" r="2.35" fill="#fee8bd" stroke="#f2a535" stroke-width="1.3"/>
<circle cx="102.69" cy="686.15" r="2.35" fill="#fee8bd" stroke="#f2a535" stroke-width="1.3"/>
<circle cx="91.15" cy="690.00" r="2.35" fill="#fee8bd" stroke="#f2a535" stroke-width="1.3"/>
<circle cx="95.77" cy="688.46" r="2.35" fill="#fee8bd" stroke="#f2a535" stroke-width="1.3"/>
<circle cx="100.38" cy="689.23" r="2.35" fill="#fee8bd" stroke="#f2a535" stroke-width="1.3"/>
<circle cx="91.92" cy="695.69" r="2.35" fill="#fee8bd" stroke="#f2a535" stroke-width="1.3"/>
<circle cx="97.77" cy="693.54" r="2.35" fill="#fee8bd" stroke="#f2a535" stroke-width="1.3"/>
<circle cx="116.53" cy="687.30" r="2.35" fill="#c9d8ec" stroke="#354a6c" stroke-width="1.3"/>
<circle cx="119.99" cy="684.99" r="2.35" fill="#c9d8ec" stroke="#354a6c" stroke-width="1.3"/>
<circle cx="123.45" cy="683.84" r="2.35" fill="#c9d8ec" stroke="#354a6c" stroke-width="1.3"/>
<circle cx="126.91" cy="685.57" r="2.35" fill="#c9d8ec" stroke="#354a6c" stroke-width="1.3"/>
<circle cx="129.80" cy="688.45" r="2.35" fill="#c9d8ec" stroke="#354a6c" stroke-width="1.3"/>
<circle cx="115.96" cy="691.34" r="2.35" fill="#c9d8ec" stroke="#354a6c" stroke-width="1.3"/>
<circle cx="119.99" cy="690.18" r="2.35" fill="#c9d8ec" stroke="#354a6c" stroke-width="1.3"/>
<circle cx="124.03" cy="689.03" r="2.35" fill="#c9d8ec" stroke="#354a6c" stroke-width="1.3"/>
<circle cx="128.07" cy="691.34" r="2.35" fill="#c9d8ec" stroke="#354a6c" stroke-width="1.3"/>
<circle cx="117.69" cy="694.80" r="2.35" fill="#c9d8ec" stroke="#354a6c" stroke-width="1.3"/>
<circle cx="121.15" cy="693.64" r="2.35" fill="#c9d8ec" stroke="#354a6c" stroke-width="1.3"/>
<circle cx="125.18" cy="694.22" r="2.35" fill="#c9d8ec" stroke="#354a6c" stroke-width="1.3"/>
<circle cx="128.64" cy="694.80" r="2.35" fill="#c9d8ec" stroke="#354a6c" stroke-width="1.3"/>
<circle cx="116.53" cy="697.10" r="2.35" fill="#c9d8ec" stroke="#354a6c" stroke-width="1.3"/>
<circle cx="121.15" cy="697.68" r="2.35" fill="#c9d8ec" stroke="#354a6c" stroke-width="1.3"/>
<circle cx="125.76" cy="699.41" r="2.35" fill="#c9d8ec" stroke="#354a6c" stroke-width="1.3"/>
<circle cx="129.22" cy="697.10" r="2.35" fill="#c9d8ec" stroke="#354a6c" stroke-width="1.3"/>
<circle cx="143.10" cy="703.80" r="2.9" fill="#c8102e"/>
<circle cx="149.60" cy="700.80" r="2.9" fill="#c8102e"/>
<circle cx="156.20" cy="704.20" r="2.9" fill="#c8102e"/>
<line x1="58.80" y1="674.90" x2="80.40" y2="674.90" stroke="#231f20" stroke-width="1.6"/>
<line x1="69.60" y1="670.80" x2="69.60" y2="679.20" stroke="#231f20" stroke-width="1.4"/>
<line x1="65.60" y1="670.80" x2="73.60" y2="670.80" stroke="#231f20" stroke-width="1.4"/>
<line x1="65.60" y1="679.20" x2="73.60" y2="679.20" stroke="#231f20" stroke-width="1.4"/>
<line x1="85.50" y1="662.60" x2="107.10" y2="662.60" stroke="#231f20" stroke-width="1.6"/>
<line x1="96.30" y1="657.70" x2="96.30" y2="667.70" stroke="#231f20" stroke-width="1.4"/>
<line x1="92.30" y1="657.70" x2="100.30" y2="657.70" stroke="#231f20" stroke-width="1.4"/>
<line x1="92.30" y1="667.70" x2="100.30" y2="667.70" stroke="#231f20" stroke-width="1.4"/>
<line x1="111.70" y1="691.30" x2="133.70" y2="691.30" stroke="#231f20" stroke-width="1.6"/>
<line x1="122.70" y1="690.00" x2="122.70" y2="692.60" stroke="#231f20" stroke-width="1.4"/>
<line x1="118.70" y1="690.00" x2="126.70" y2="690.00" stroke="#231f20" stroke-width="1.4"/>
<line x1="118.70" y1="692.60" x2="126.70" y2="692.60" stroke="#231f20" stroke-width="1.4"/>
<line x1="139.00" y1="703.40" x2="160.20" y2="703.40" stroke="#231f20" stroke-width="1.6"/>
<line x1="149.60" y1="702.20" x2="149.60" y2="704.60" stroke="#231f20" stroke-width="1.4"/>
<line x1="145.60" y1="702.20" x2="153.60" y2="702.20" stroke="#231f20" stroke-width="1.4"/>
<line x1="145.60" y1="704.60" x2="153.60" y2="704.60" stroke="#231f20" stroke-width="1.4"/>
<line x1="51.70" y1="599.00" x2="51.70" y2="705.65" stroke="#231f20" stroke-width="1.6"/>
<line x1="50.90" y1="704.90" x2="167.30" y2="704.90" stroke="#231f20" stroke-width="1.5"/>
<line x1="47.10" y1="704.90" x2="51.70" y2="704.90" stroke="#231f20" stroke-width="1.2"/>
<text x="42.50" y="709.20" font-size="12.3" fill="#231f20" text-anchor="end" stroke="#231f20" stroke-width="0.18" textLength="6.60" lengthAdjust="spacingAndGlyphs">0</text>
<line x1="47.10" y1="684.60" x2="51.70" y2="684.60" stroke="#231f20" stroke-width="1.2"/>
<text x="42.50" y="688.90" font-size="12.3" fill="#231f20" text-anchor="end" stroke="#231f20" stroke-width="0.18" textLength="13.20" lengthAdjust="spacingAndGlyphs">20</text>
<line x1="47.10" y1="664.30" x2="51.70" y2="664.30" stroke="#231f20" stroke-width="1.2"/>
<text x="42.50" y="668.60" font-size="12.3" fill="#231f20" text-anchor="end" stroke="#231f20" stroke-width="0.18" textLength="13.20" lengthAdjust="spacingAndGlyphs">40</text>
<line x1="47.10" y1="644.00" x2="51.70" y2="644.00" stroke="#231f20" stroke-width="1.2"/>
<text x="42.50" y="648.30" font-size="12.3" fill="#231f20" text-anchor="end" stroke="#231f20" stroke-width="0.18" textLength="13.20" lengthAdjust="spacingAndGlyphs">60</text>
<line x1="47.10" y1="623.70" x2="51.70" y2="623.70" stroke="#231f20" stroke-width="1.2"/>
<text x="42.50" y="628.00" font-size="12.3" fill="#231f20" text-anchor="end" stroke="#231f20" stroke-width="0.18" textLength="13.20" lengthAdjust="spacingAndGlyphs">80</text>
<line x1="47.10" y1="603.40" x2="51.70" y2="603.40" stroke="#231f20" stroke-width="1.2"/>
<text x="42.50" y="607.70" font-size="12.3" fill="#231f20" text-anchor="end" stroke="#231f20" stroke-width="0.18" textLength="19.80" lengthAdjust="spacingAndGlyphs">100</text>
<line x1="49.50" y1="694.75" x2="51.70" y2="694.75" stroke="#231f20" stroke-width="1.1"/>
<line x1="49.50" y1="674.45" x2="51.70" y2="674.45" stroke="#231f20" stroke-width="1.1"/>
<line x1="49.50" y1="654.15" x2="51.70" y2="654.15" stroke="#231f20" stroke-width="1.1"/>
<line x1="49.50" y1="633.85" x2="51.70" y2="633.85" stroke="#231f20" stroke-width="1.1"/>
<line x1="49.50" y1="613.55" x2="51.70" y2="613.55" stroke="#231f20" stroke-width="1.1"/>
<line x1="69.60" y1="704.90" x2="69.60" y2="708.70" stroke="#231f20" stroke-width="1.4"/>
<text x="69.60" y="723.75" font-size="12.4" fill="#4fa64f" text-anchor="middle" stroke="#4fa64f" stroke-width="0.18" textLength="16.40" lengthAdjust="spacingAndGlyphs">NC</text>
<line x1="96.30" y1="704.90" x2="96.30" y2="708.70" stroke="#231f20" stroke-width="1.4"/>
<text x="96.30" y="723.75" font-size="12.4" fill="#f0a23a" text-anchor="middle" stroke="#f0a23a" stroke-width="0.18" textLength="13.40" lengthAdjust="spacingAndGlyphs">ET</text>
<line x1="122.70" y1="704.90" x2="122.70" y2="708.70" stroke="#231f20" stroke-width="1.4"/>
<text x="122.70" y="723.75" font-size="12.4" fill="#34517a" text-anchor="middle" stroke="#34517a" stroke-width="0.18" textLength="13.90" lengthAdjust="spacingAndGlyphs">PV</text>
<line x1="149.60" y1="704.90" x2="149.60" y2="708.70" stroke="#231f20" stroke-width="1.4"/>
<text x="149.60" y="723.75" font-size="12.4" fill="#b8173f" text-anchor="middle" stroke="#b8173f" stroke-width="0.18" textLength="19.90" lengthAdjust="spacingAndGlyphs">E12</text>
<path d="M96.30,593.50 V591.30 H149.60 V593.50" fill="none" stroke="#231f20" stroke-width="1.25"/>
<polygon points="120.20,584.55 120.85,586.11 122.53,586.24 121.25,587.34 121.64,588.98 120.20,588.10 118.76,588.98 119.15,587.34 117.87,586.24 119.55,586.11" fill="#231f20"/>
<polygon points="125.70,584.55 126.35,586.11 128.03,586.24 126.75,587.34 127.14,588.98 125.70,588.10 124.26,588.98 124.65,587.34 123.37,586.24 125.05,586.11" fill="#231f20"/>
<path d="M96.30,605.50 V603.30 H122.70 V605.50" fill="none" stroke="#231f20" stroke-width="1.25"/>
<polygon points="101.25,595.05 101.90,596.61 103.58,596.74 102.30,597.84 102.69,599.48 101.25,598.60 99.81,599.48 100.20,597.84 98.92,596.74 100.60,596.61" fill="#231f20"/>
<polygon points="106.75,595.05 107.40,596.61 109.08,596.74 107.80,597.84 108.19,599.48 106.75,598.60 105.31,599.48 105.70,597.84 104.42,596.74 106.10,596.61" fill="#231f20"/>
<polygon points="112.25,595.05 112.90,596.61 114.58,596.74 113.30,597.84 113.69,599.48 112.25,598.60 110.81,599.48 111.20,597.84 109.92,596.74 111.60,596.61" fill="#231f20"/>
<polygon points="117.75,595.05 118.40,596.61 120.08,596.74 118.80,597.84 119.19,599.48 117.75,598.60 116.31,599.48 116.70,597.84 115.42,596.74 117.10,596.61" fill="#231f20"/>
<circle cx="217.52" cy="702.74" r="2.35" fill="#c4ecbc" stroke="#44a544" stroke-width="1.3"/>
<circle cx="220.69" cy="701.26" r="2.35" fill="#c4ecbc" stroke="#44a544" stroke-width="1.3"/>
<circle cx="224.92" cy="700.20" r="2.35" fill="#c4ecbc" stroke="#44a544" stroke-width="1.3"/>
<circle cx="229.16" cy="701.26" r="2.35" fill="#c4ecbc" stroke="#44a544" stroke-width="1.3"/>
<circle cx="232.33" cy="702.74" r="2.35" fill="#c4ecbc" stroke="#44a544" stroke-width="1.3"/>
<circle cx="219.64" cy="704.01" r="2.35" fill="#c4ecbc" stroke="#44a544" stroke-width="1.3"/>
<circle cx="223.87" cy="704.01" r="2.35" fill="#c4ecbc" stroke="#44a544" stroke-width="1.3"/>
<circle cx="228.10" cy="704.01" r="2.35" fill="#c4ecbc" stroke="#44a544" stroke-width="1.3"/>
<circle cx="231.27" cy="704.43" r="2.35" fill="#c4ecbc" stroke="#44a544" stroke-width="1.3"/>
<circle cx="222.81" cy="702.31" r="2.35" fill="#c4ecbc" stroke="#44a544" stroke-width="1.3"/>
<circle cx="251.00" cy="671.60" r="2.35" fill="#fee8bd" stroke="#f2a535" stroke-width="1.3"/>
<circle cx="251.00" cy="687.80" r="2.35" fill="#fee8bd" stroke="#f2a535" stroke-width="1.3"/>
<circle cx="242.50" cy="702.00" r="2.35" fill="#fee8bd" stroke="#f2a535" stroke-width="1.3"/>
<circle cx="246.00" cy="702.00" r="2.35" fill="#fee8bd" stroke="#f2a535" stroke-width="1.3"/>
<circle cx="249.50" cy="702.00" r="2.35" fill="#fee8bd" stroke="#f2a535" stroke-width="1.3"/>
<circle cx="253.00" cy="702.00" r="2.35" fill="#fee8bd" stroke="#f2a535" stroke-width="1.3"/>
<circle cx="256.50" cy="702.00" r="2.35" fill="#fee8bd" stroke="#f2a535" stroke-width="1.3"/>
<circle cx="260.00" cy="702.00" r="2.35" fill="#fee8bd" stroke="#f2a535" stroke-width="1.3"/>
<circle cx="244.00" cy="699.50" r="2.35" fill="#fee8bd" stroke="#f2a535" stroke-width="1.3"/>
<circle cx="247.50" cy="699.50" r="2.35" fill="#fee8bd" stroke="#f2a535" stroke-width="1.3"/>
<circle cx="251.00" cy="699.50" r="2.35" fill="#fee8bd" stroke="#f2a535" stroke-width="1.3"/>
<circle cx="254.50" cy="699.50" r="2.35" fill="#fee8bd" stroke="#f2a535" stroke-width="1.3"/>
<circle cx="258.00" cy="699.50" r="2.35" fill="#fee8bd" stroke="#f2a535" stroke-width="1.3"/>
<circle cx="246.00" cy="697.00" r="2.35" fill="#fee8bd" stroke="#f2a535" stroke-width="1.3"/>
<circle cx="249.50" cy="697.00" r="2.35" fill="#fee8bd" stroke="#f2a535" stroke-width="1.3"/>
<circle cx="253.00" cy="697.00" r="2.35" fill="#fee8bd" stroke="#f2a535" stroke-width="1.3"/>
<circle cx="256.00" cy="697.00" r="2.35" fill="#fee8bd" stroke="#f2a535" stroke-width="1.3"/>
<circle cx="248.50" cy="694.50" r="2.35" fill="#fee8bd" stroke="#f2a535" stroke-width="1.3"/>
<circle cx="252.50" cy="694.50" r="2.35" fill="#fee8bd" stroke="#f2a535" stroke-width="1.3"/>
<circle cx="245.00" cy="703.00" r="2.35" fill="#fee8bd" stroke="#f2a535" stroke-width="1.3"/>
<circle cx="251.00" cy="703.00" r="2.35" fill="#fee8bd" stroke="#f2a535" stroke-width="1.3"/>
<circle cx="257.00" cy="703.00" r="2.35" fill="#fee8bd" stroke="#f2a535" stroke-width="1.3"/>
<circle cx="251.00" cy="698.00" r="2.35" fill="#fee8bd" stroke="#f2a535" stroke-width="1.3"/>
<circle cx="278.45" cy="613.46" r="2.35" fill="#c9d8ec" stroke="#354a6c" stroke-width="1.3"/>
<circle cx="278.45" cy="635.67" r="2.35" fill="#c9d8ec" stroke="#354a6c" stroke-width="1.3"/>
<circle cx="276.75" cy="648.37" r="2.35" fill="#c9d8ec" stroke="#354a6c" stroke-width="1.3"/>
<circle cx="279.93" cy="647.31" r="2.35" fill="#c9d8ec" stroke="#354a6c" stroke-width="1.3"/>
<circle cx="278.45" cy="661.06" r="2.35" fill="#c9d8ec" stroke="#354a6c" stroke-width="1.3"/>
<circle cx="277.81" cy="672.70" r="2.35" fill="#c9d8ec" stroke="#354a6c" stroke-width="1.3"/>
<circle cx="276.75" cy="679.04" r="2.35" fill="#c9d8ec" stroke="#354a6c" stroke-width="1.3"/>
<circle cx="278.45" cy="684.97" r="2.35" fill="#c9d8ec" stroke="#354a6c" stroke-width="1.3"/>
<circle cx="271.47" cy="690.68" r="2.35" fill="#c9d8ec" stroke="#354a6c" stroke-width="1.3"/>
<circle cx="277.81" cy="691.74" r="2.35" fill="#c9d8ec" stroke="#354a6c" stroke-width="1.3"/>
<circle cx="271.47" cy="697.02" r="2.35" fill="#c9d8ec" stroke="#354a6c" stroke-width="1.3"/>
<circle cx="276.75" cy="695.97" r="2.35" fill="#c9d8ec" stroke="#354a6c" stroke-width="1.3"/>
<circle cx="282.04" cy="694.91" r="2.35" fill="#c9d8ec" stroke="#354a6c" stroke-width="1.3"/>
<circle cx="286.27" cy="697.02" r="2.35" fill="#c9d8ec" stroke="#354a6c" stroke-width="1.3"/>
<circle cx="273.58" cy="699.14" r="2.35" fill="#c9d8ec" stroke="#354a6c" stroke-width="1.3"/>
<circle cx="282.04" cy="700.20" r="2.35" fill="#c9d8ec" stroke="#354a6c" stroke-width="1.3"/>
<circle cx="278.87" cy="666.35" r="2.35" fill="#c9d8ec" stroke="#354a6c" stroke-width="1.3"/>
<circle cx="305.31" cy="619.81" r="2.9" fill="#c8102e"/>
<circle cx="305.31" cy="636.31" r="2.9" fill="#c8102e"/>
<circle cx="305.31" cy="651.54" r="2.9" fill="#c8102e"/>
<line x1="212.60" y1="702.70" x2="234.20" y2="702.70" stroke="#231f20" stroke-width="1.6"/>
<line x1="239.20" y1="700.20" x2="262.00" y2="700.20" stroke="#231f20" stroke-width="1.6"/>
<line x1="250.60" y1="699.00" x2="250.60" y2="701.40" stroke="#231f20" stroke-width="1.4"/>
<line x1="246.60" y1="699.00" x2="254.60" y2="699.00" stroke="#231f20" stroke-width="1.4"/>
<line x1="246.60" y1="701.40" x2="254.60" y2="701.40" stroke="#231f20" stroke-width="1.4"/>
<line x1="267.20" y1="675.20" x2="289.00" y2="675.20" stroke="#231f20" stroke-width="1.6"/>
<line x1="278.10" y1="668.50" x2="278.10" y2="681.60" stroke="#231f20" stroke-width="1.4"/>
<line x1="274.10" y1="668.50" x2="282.10" y2="668.50" stroke="#231f20" stroke-width="1.4"/>
<line x1="274.10" y1="681.60" x2="282.10" y2="681.60" stroke="#231f20" stroke-width="1.4"/>
<line x1="294.40" y1="636.30" x2="316.00" y2="636.30" stroke="#231f20" stroke-width="1.6"/>
<line x1="305.20" y1="626.20" x2="305.20" y2="645.20" stroke="#231f20" stroke-width="1.4"/>
<line x1="301.20" y1="626.20" x2="309.20" y2="626.20" stroke="#231f20" stroke-width="1.4"/>
<line x1="301.20" y1="645.20" x2="309.20" y2="645.20" stroke="#231f20" stroke-width="1.4"/>
<line x1="205.40" y1="597.50" x2="205.40" y2="704.75" stroke="#231f20" stroke-width="1.6"/>
<line x1="204.60" y1="704.00" x2="323.50" y2="704.00" stroke="#231f20" stroke-width="1.5"/>
<line x1="200.80" y1="704.00" x2="205.40" y2="704.00" stroke="#231f20" stroke-width="1.2"/>
<text x="196.20" y="708.30" font-size="12.3" fill="#231f20" text-anchor="end" stroke="#231f20" stroke-width="0.18" textLength="6.60" lengthAdjust="spacingAndGlyphs">0</text>
<line x1="200.80" y1="669.70" x2="205.40" y2="669.70" stroke="#231f20" stroke-width="1.2"/>
<text x="196.20" y="674.00" font-size="12.3" fill="#231f20" text-anchor="end" stroke="#231f20" stroke-width="0.18" textLength="13.20" lengthAdjust="spacingAndGlyphs">10</text>
<line x1="200.80" y1="635.40" x2="205.40" y2="635.40" stroke="#231f20" stroke-width="1.2"/>
<text x="196.20" y="639.70" font-size="12.3" fill="#231f20" text-anchor="end" stroke="#231f20" stroke-width="0.18" textLength="13.20" lengthAdjust="spacingAndGlyphs">20</text>
<line x1="200.80" y1="601.10" x2="205.40" y2="601.10" stroke="#231f20" stroke-width="1.2"/>
<text x="196.20" y="605.40" font-size="12.3" fill="#231f20" text-anchor="end" stroke="#231f20" stroke-width="0.18" textLength="13.20" lengthAdjust="spacingAndGlyphs">30</text>
<line x1="203.20" y1="686.85" x2="205.40" y2="686.85" stroke="#231f20" stroke-width="1.1"/>
<line x1="203.20" y1="652.55" x2="205.40" y2="652.55" stroke="#231f20" stroke-width="1.1"/>
<line x1="203.20" y1="618.25" x2="205.40" y2="618.25" stroke="#231f20" stroke-width="1.1"/>
<line x1="223.40" y1="704.00" x2="223.40" y2="707.80" stroke="#231f20" stroke-width="1.4"/>
<text x="223.40" y="723.75" font-size="12.4" fill="#4fa64f" text-anchor="middle" stroke="#4fa64f" stroke-width="0.18" textLength="16.40" lengthAdjust="spacingAndGlyphs">NC</text>
<line x1="250.60" y1="704.00" x2="250.60" y2="707.80" stroke="#231f20" stroke-width="1.4"/>
<text x="250.60" y="723.75" font-size="12.4" fill="#f0a23a" text-anchor="middle" stroke="#f0a23a" stroke-width="0.18" textLength="13.40" lengthAdjust="spacingAndGlyphs">ET</text>
<line x1="278.10" y1="704.00" x2="278.10" y2="707.80" stroke="#231f20" stroke-width="1.4"/>
<text x="278.10" y="723.75" font-size="12.4" fill="#34517a" text-anchor="middle" stroke="#34517a" stroke-width="0.18" textLength="13.90" lengthAdjust="spacingAndGlyphs">PV</text>
<line x1="305.20" y1="704.00" x2="305.20" y2="707.80" stroke="#231f20" stroke-width="1.4"/>
<text x="305.20" y="723.75" font-size="12.4" fill="#b8173f" text-anchor="middle" stroke="#b8173f" stroke-width="0.18" textLength="19.90" lengthAdjust="spacingAndGlyphs">E12</text>
<path d="M223.40,574.00 V571.80 H305.20 V574.00" fill="none" stroke="#231f20" stroke-width="1.25"/>
<polygon points="256.05,564.15 256.70,565.71 258.38,565.84 257.10,566.94 257.49,568.58 256.05,567.70 254.61,568.58 255.00,566.94 253.72,565.84 255.40,565.71" fill="#231f20"/>
<polygon points="261.55,564.15 262.20,565.71 263.88,565.84 262.60,566.94 262.99,568.58 261.55,567.70 260.11,568.58 260.50,566.94 259.22,565.84 260.90,565.71" fill="#231f20"/>
<polygon points="267.05,564.15 267.70,565.71 269.38,565.84 268.10,566.94 268.49,568.58 267.05,567.70 265.61,568.58 266.00,566.94 264.72,565.84 266.40,565.71" fill="#231f20"/>
<polygon points="272.55,564.15 273.20,565.71 274.88,565.84 273.60,566.94 273.99,568.58 272.55,567.70 271.11,568.58 271.50,566.94 270.22,565.84 271.90,565.71" fill="#231f20"/>
<path d="M250.60,584.60 V582.40 H305.20 V584.60" fill="none" stroke="#231f20" stroke-width="1.25"/>
<polygon points="269.65,575.15 270.30,576.71 271.98,576.84 270.70,577.94 271.09,579.58 269.65,578.70 268.21,579.58 268.60,577.94 267.32,576.84 269.00,576.71" fill="#231f20"/>
<polygon points="275.15,575.15 275.80,576.71 277.48,576.84 276.20,577.94 276.59,579.58 275.15,578.70 273.71,579.58 274.10,577.94 272.82,576.84 274.50,576.71" fill="#231f20"/>
<polygon points="280.65,575.15 281.30,576.71 282.98,576.84 281.70,577.94 282.09,579.58 280.65,578.70 279.21,579.58 279.60,577.94 278.32,576.84 280.00,576.71" fill="#231f20"/>
<polygon points="286.15,575.15 286.80,576.71 288.48,576.84 287.20,577.94 287.59,579.58 286.15,578.70 284.71,579.58 285.10,577.94 283.82,576.84 285.50,576.71" fill="#231f20"/>
<path d="M223.40,597.10 V594.90 H278.10 V597.10" fill="none" stroke="#231f20" stroke-width="1.25"/>
<polygon points="245.25,588.05 245.90,589.61 247.58,589.74 246.30,590.84 246.69,592.48 245.25,591.60 243.81,592.48 244.20,590.84 242.92,589.74 244.60,589.61" fill="#231f20"/>
<polygon points="250.75,588.05 251.40,589.61 253.08,589.74 251.80,590.84 252.19,592.48 250.75,591.60 249.31,592.48 249.70,590.84 248.42,589.74 250.10,589.61" fill="#231f20"/>
<polygon points="256.25,588.05 256.90,589.61 258.58,589.74 257.30,590.84 257.69,592.48 256.25,591.60 254.81,592.48 255.20,590.84 253.92,589.74 255.60,589.61" fill="#231f20"/>
<path d="M250.60,609.20 V607.00 H278.10 V609.20" fill="none" stroke="#231f20" stroke-width="1.25"/>
<polygon points="256.10,599.95 256.75,601.51 258.43,601.64 257.15,602.74 257.54,604.38 256.10,603.50 254.66,604.38 255.05,602.74 253.77,601.64 255.45,601.51" fill="#231f20"/>
<polygon points="261.60,599.95 262.25,601.51 263.93,601.64 262.65,602.74 263.04,604.38 261.60,603.50 260.16,604.38 260.55,602.74 259.27,601.64 260.95,601.51" fill="#231f20"/>
<polygon points="267.10,599.95 267.75,601.51 269.43,601.64 268.15,602.74 268.54,604.38 267.10,603.50 265.66,604.38 266.05,602.74 264.77,601.64 266.45,601.51" fill="#231f20"/>
<polygon points="272.60,599.95 273.25,601.51 274.93,601.64 273.65,602.74 274.04,604.38 272.60,603.50 271.16,604.38 271.55,602.74 270.27,601.64 271.95,601.51" fill="#231f20"/>
<circle cx="391.50" cy="650.62" r="2.35" fill="#c4ecbc" stroke="#44a544" stroke-width="1.3"/>
<circle cx="392.35" cy="661.20" r="2.35" fill="#c4ecbc" stroke="#44a544" stroke-width="1.3"/>
<circle cx="389.81" cy="664.58" r="2.35" fill="#c4ecbc" stroke="#44a544" stroke-width="1.3"/>
<circle cx="384.52" cy="670.29" r="2.35" fill="#c4ecbc" stroke="#44a544" stroke-width="1.3"/>
<circle cx="390.87" cy="670.29" r="2.35" fill="#c4ecbc" stroke="#44a544" stroke-width="1.3"/>
<circle cx="396.16" cy="671.35" r="2.35" fill="#c4ecbc" stroke="#44a544" stroke-width="1.3"/>
<circle cx="384.52" cy="677.27" r="2.35" fill="#c4ecbc" stroke="#44a544" stroke-width="1.3"/>
<circle cx="389.81" cy="677.70" r="2.35" fill="#c4ecbc" stroke="#44a544" stroke-width="1.3"/>
<circle cx="396.16" cy="676.64" r="2.35" fill="#c4ecbc" stroke="#44a544" stroke-width="1.3"/>
<circle cx="390.87" cy="684.04" r="2.35" fill="#c4ecbc" stroke="#44a544" stroke-width="1.3"/>
<circle cx="391.50" cy="692.08" r="2.35" fill="#c4ecbc" stroke="#44a544" stroke-width="1.3"/>
<circle cx="400.39" cy="673.47" r="2.35" fill="#c4ecbc" stroke="#44a544" stroke-width="1.3"/>
<circle cx="386.64" cy="673.47" r="2.35" fill="#c4ecbc" stroke="#44a544" stroke-width="1.3"/>
<circle cx="418.37" cy="640.00" r="2.35" fill="#fee8bd" stroke="#f2a535" stroke-width="1.3"/>
<circle cx="418.37" cy="652.69" r="2.35" fill="#fee8bd" stroke="#f2a535" stroke-width="1.3"/>
<circle cx="418.37" cy="658.45" r="2.35" fill="#fee8bd" stroke="#f2a535" stroke-width="1.3"/>
<circle cx="418.14" cy="666.30" r="2.35" fill="#fee8bd" stroke="#f2a535" stroke-width="1.3"/>
<circle cx="418.60" cy="667.22" r="2.35" fill="#fee8bd" stroke="#f2a535" stroke-width="1.3"/>
<circle cx="412.03" cy="678.06" r="2.35" fill="#fee8bd" stroke="#f2a535" stroke-width="1.3"/>
<circle cx="417.79" cy="676.68" r="2.35" fill="#fee8bd" stroke="#f2a535" stroke-width="1.3"/>
<circle cx="424.14" cy="678.06" r="2.35" fill="#fee8bd" stroke="#f2a535" stroke-width="1.3"/>
<circle cx="411.45" cy="684.41" r="2.35" fill="#fee8bd" stroke="#f2a535" stroke-width="1.3"/>
<circle cx="417.79" cy="683.60" r="2.35" fill="#fee8bd" stroke="#f2a535" stroke-width="1.3"/>
<circle cx="425.29" cy="684.98" r="2.35" fill="#fee8bd" stroke="#f2a535" stroke-width="1.3"/>
<circle cx="414.91" cy="686.71" r="2.35" fill="#fee8bd" stroke="#f2a535" stroke-width="1.3"/>
<circle cx="421.25" cy="686.37" r="2.35" fill="#fee8bd" stroke="#f2a535" stroke-width="1.3"/>
<circle cx="414.91" cy="689.37" r="2.35" fill="#fee8bd" stroke="#f2a535" stroke-width="1.3"/>
<circle cx="420.68" cy="689.02" r="2.35" fill="#fee8bd" stroke="#f2a535" stroke-width="1.3"/>
<circle cx="417.79" cy="691.33" r="2.35" fill="#fee8bd" stroke="#f2a535" stroke-width="1.3"/>
<circle cx="412.03" cy="692.48" r="2.35" fill="#fee8bd" stroke="#f2a535" stroke-width="1.3"/>
<circle cx="417.79" cy="693.29" r="2.35" fill="#fee8bd" stroke="#f2a535" stroke-width="1.3"/>
<circle cx="423.56" cy="692.13" r="2.35" fill="#fee8bd" stroke="#f2a535" stroke-width="1.3"/>
<circle cx="415.49" cy="695.13" r="2.35" fill="#fee8bd" stroke="#f2a535" stroke-width="1.3"/>
<circle cx="421.25" cy="695.13" r="2.35" fill="#fee8bd" stroke="#f2a535" stroke-width="1.3"/>
<circle cx="412.60" cy="696.75" r="2.35" fill="#fee8bd" stroke="#f2a535" stroke-width="1.3"/>
<circle cx="418.37" cy="696.75" r="2.35" fill="#fee8bd" stroke="#f2a535" stroke-width="1.3"/>
<circle cx="424.14" cy="696.29" r="2.35" fill="#fee8bd" stroke="#f2a535" stroke-width="1.3"/>
<circle cx="416.06" cy="698.25" r="2.35" fill="#fee8bd" stroke="#f2a535" stroke-width="1.3"/>
<circle cx="421.25" cy="698.25" r="2.35" fill="#fee8bd" stroke="#f2a535" stroke-width="1.3"/>
<circle cx="425.29" cy="688.44" r="2.35" fill="#fee8bd" stroke="#f2a535" stroke-width="1.3"/>
<circle cx="445.45" cy="672.41" r="2.35" fill="#c9d8ec" stroke="#354a6c" stroke-width="1.3"/>
<circle cx="438.47" cy="689.33" r="2.35" fill="#c9d8ec" stroke="#354a6c" stroke-width="1.3"/>
<circle cx="442.70" cy="688.27" r="2.35" fill="#c9d8ec" stroke="#354a6c" stroke-width="1.3"/>
<circle cx="447.98" cy="688.70" r="2.35" fill="#c9d8ec" stroke="#354a6c" stroke-width="1.3"/>
<circle cx="452.22" cy="689.97" r="2.35" fill="#c9d8ec" stroke="#354a6c" stroke-width="1.3"/>
<circle cx="436.35" cy="693.56" r="2.35" fill="#c9d8ec" stroke="#354a6c" stroke-width="1.3"/>
<circle cx="441.64" cy="692.93" r="2.35" fill="#c9d8ec" stroke="#354a6c" stroke-width="1.3"/>
<circle cx="446.93" cy="692.50" r="2.35" fill="#c9d8ec" stroke="#354a6c" stroke-width="1.3"/>
<circle cx="452.22" cy="693.56" r="2.35" fill="#c9d8ec" stroke="#354a6c" stroke-width="1.3"/>
<circle cx="438.47" cy="697.16" r="2.35" fill="#c9d8ec" stroke="#354a6c" stroke-width="1.3"/>
<circle cx="443.75" cy="698.43" r="2.35" fill="#c9d8ec" stroke="#354a6c" stroke-width="1.3"/>
<circle cx="449.04" cy="697.79" r="2.35" fill="#c9d8ec" stroke="#354a6c" stroke-width="1.3"/>
<circle cx="453.27" cy="696.74" r="2.35" fill="#c9d8ec" stroke="#354a6c" stroke-width="1.3"/>
<circle cx="446.93" cy="699.91" r="2.35" fill="#c9d8ec" stroke="#354a6c" stroke-width="1.3"/>
<circle cx="465.80" cy="699.60" r="2.9" fill="#c8102e"/>
<circle cx="472.30" cy="693.80" r="2.9" fill="#c8102e"/>
<circle cx="478.80" cy="696.50" r="2.9" fill="#c8102e"/>
<line x1="380.60" y1="673.00" x2="402.40" y2="673.00" stroke="#231f20" stroke-width="1.6"/>
<line x1="391.50" y1="670.30" x2="391.50" y2="676.00" stroke="#231f20" stroke-width="1.4"/>
<line x1="387.50" y1="670.30" x2="395.50" y2="670.30" stroke="#231f20" stroke-width="1.4"/>
<line x1="387.50" y1="676.00" x2="395.50" y2="676.00" stroke="#231f20" stroke-width="1.4"/>
<line x1="407.20" y1="678.80" x2="429.60" y2="678.80" stroke="#231f20" stroke-width="1.6"/>
<line x1="418.40" y1="675.60" x2="418.40" y2="681.90" stroke="#231f20" stroke-width="1.4"/>
<line x1="414.40" y1="675.60" x2="422.40" y2="675.60" stroke="#231f20" stroke-width="1.4"/>
<line x1="414.40" y1="681.90" x2="422.40" y2="681.90" stroke="#231f20" stroke-width="1.4"/>
<line x1="434.60" y1="692.10" x2="456.40" y2="692.10" stroke="#231f20" stroke-width="1.6"/>
<line x1="445.50" y1="690.80" x2="445.50" y2="693.50" stroke="#231f20" stroke-width="1.4"/>
<line x1="441.50" y1="690.80" x2="449.50" y2="690.80" stroke="#231f20" stroke-width="1.4"/>
<line x1="441.50" y1="693.50" x2="449.50" y2="693.50" stroke="#231f20" stroke-width="1.4"/>
<line x1="461.40" y1="696.90" x2="483.40" y2="696.90" stroke="#231f20" stroke-width="1.6"/>
<line x1="472.40" y1="695.40" x2="472.40" y2="698.40" stroke="#231f20" stroke-width="1.4"/>
<line x1="468.40" y1="695.40" x2="476.40" y2="695.40" stroke="#231f20" stroke-width="1.4"/>
<line x1="468.40" y1="698.40" x2="476.40" y2="698.40" stroke="#231f20" stroke-width="1.4"/>
<line x1="372.60" y1="597.00" x2="372.60" y2="704.05" stroke="#231f20" stroke-width="1.6"/>
<line x1="371.80" y1="703.30" x2="490.80" y2="703.30" stroke="#231f20" stroke-width="1.5"/>
<line x1="368.00" y1="703.30" x2="372.60" y2="703.30" stroke="#231f20" stroke-width="1.2"/>
<text x="363.40" y="707.60" font-size="12.3" fill="#231f20" text-anchor="end" stroke="#231f20" stroke-width="0.18" textLength="6.60" lengthAdjust="spacingAndGlyphs">0</text>
<line x1="368.00" y1="682.70" x2="372.60" y2="682.70" stroke="#231f20" stroke-width="1.2"/>
<text x="363.40" y="687.00" font-size="12.3" fill="#231f20" text-anchor="end" stroke="#231f20" stroke-width="0.18" textLength="6.60" lengthAdjust="spacingAndGlyphs">5</text>
<line x1="368.00" y1="662.10" x2="372.60" y2="662.10" stroke="#231f20" stroke-width="1.2"/>
<text x="363.40" y="666.40" font-size="12.3" fill="#231f20" text-anchor="end" stroke="#231f20" stroke-width="0.18" textLength="13.20" lengthAdjust="spacingAndGlyphs">10</text>
<line x1="368.00" y1="641.50" x2="372.60" y2="641.50" stroke="#231f20" stroke-width="1.2"/>
<text x="363.40" y="645.80" font-size="12.3" fill="#231f20" text-anchor="end" stroke="#231f20" stroke-width="0.18" textLength="13.20" lengthAdjust="spacingAndGlyphs">15</text>
<line x1="368.00" y1="620.90" x2="372.60" y2="620.90" stroke="#231f20" stroke-width="1.2"/>
<text x="363.40" y="625.20" font-size="12.3" fill="#231f20" text-anchor="end" stroke="#231f20" stroke-width="0.18" textLength="13.20" lengthAdjust="spacingAndGlyphs">20</text>
<line x1="368.00" y1="600.30" x2="372.60" y2="600.30" stroke="#231f20" stroke-width="1.2"/>
<text x="363.40" y="604.60" font-size="12.3" fill="#231f20" text-anchor="end" stroke="#231f20" stroke-width="0.18" textLength="13.20" lengthAdjust="spacingAndGlyphs">25</text>
<line x1="370.40" y1="693.00" x2="372.60" y2="693.00" stroke="#231f20" stroke-width="1.1"/>
<line x1="370.40" y1="672.40" x2="372.60" y2="672.40" stroke="#231f20" stroke-width="1.1"/>
<line x1="370.40" y1="651.80" x2="372.60" y2="651.80" stroke="#231f20" stroke-width="1.1"/>
<line x1="370.40" y1="631.20" x2="372.60" y2="631.20" stroke="#231f20" stroke-width="1.1"/>
<line x1="370.40" y1="610.60" x2="372.60" y2="610.60" stroke="#231f20" stroke-width="1.1"/>
<line x1="391.50" y1="703.30" x2="391.50" y2="707.10" stroke="#231f20" stroke-width="1.4"/>
<text x="391.50" y="723.75" font-size="12.4" fill="#4fa64f" text-anchor="middle" stroke="#4fa64f" stroke-width="0.18" textLength="16.40" lengthAdjust="spacingAndGlyphs">NC</text>
<line x1="418.40" y1="703.30" x2="418.40" y2="707.10" stroke="#231f20" stroke-width="1.4"/>
<text x="418.40" y="723.75" font-size="12.4" fill="#f0a23a" text-anchor="middle" stroke="#f0a23a" stroke-width="0.18" textLength="13.40" lengthAdjust="spacingAndGlyphs">ET</text>
<line x1="445.50" y1="703.30" x2="445.50" y2="707.10" stroke="#231f20" stroke-width="1.4"/>
<text x="445.50" y="723.75" font-size="12.4" fill="#34517a" text-anchor="middle" stroke="#34517a" stroke-width="0.18" textLength="13.90" lengthAdjust="spacingAndGlyphs">PV</text>
<line x1="472.40" y1="703.30" x2="472.40" y2="707.10" stroke="#231f20" stroke-width="1.4"/>
<text x="472.40" y="723.75" font-size="12.4" fill="#b8173f" text-anchor="middle" stroke="#b8173f" stroke-width="0.18" textLength="19.90" lengthAdjust="spacingAndGlyphs">E12</text>
<path d="M391.50,598.00 V595.80 H445.50 V598.00" fill="none" stroke="#231f20" stroke-width="1.25"/>
<polygon points="415.75,587.55 416.40,589.11 418.08,589.24 416.80,590.34 417.19,591.98 415.75,591.10 414.31,591.98 414.70,590.34 413.42,589.24 415.10,589.11" fill="#231f20"/>
<polygon points="421.25,587.55 421.90,589.11 423.58,589.24 422.30,590.34 422.69,591.98 421.25,591.10 419.81,591.98 420.20,590.34 418.92,589.24 420.60,589.11" fill="#231f20"/>
<path d="M418.40,609.00 V606.80 H445.50 V609.00" fill="none" stroke="#231f20" stroke-width="1.25"/>
<polygon points="431.95,599.55 432.60,601.11 434.28,601.24 433.00,602.34 433.39,603.98 431.95,603.10 430.51,603.98 430.90,602.34 429.62,601.24 431.30,601.11" fill="#231f20"/>
<rect x="0.5" y="0.5" width="519" height="734" fill="none" stroke="#222" stroke-width="1"/>
</svg>
</body></html>
